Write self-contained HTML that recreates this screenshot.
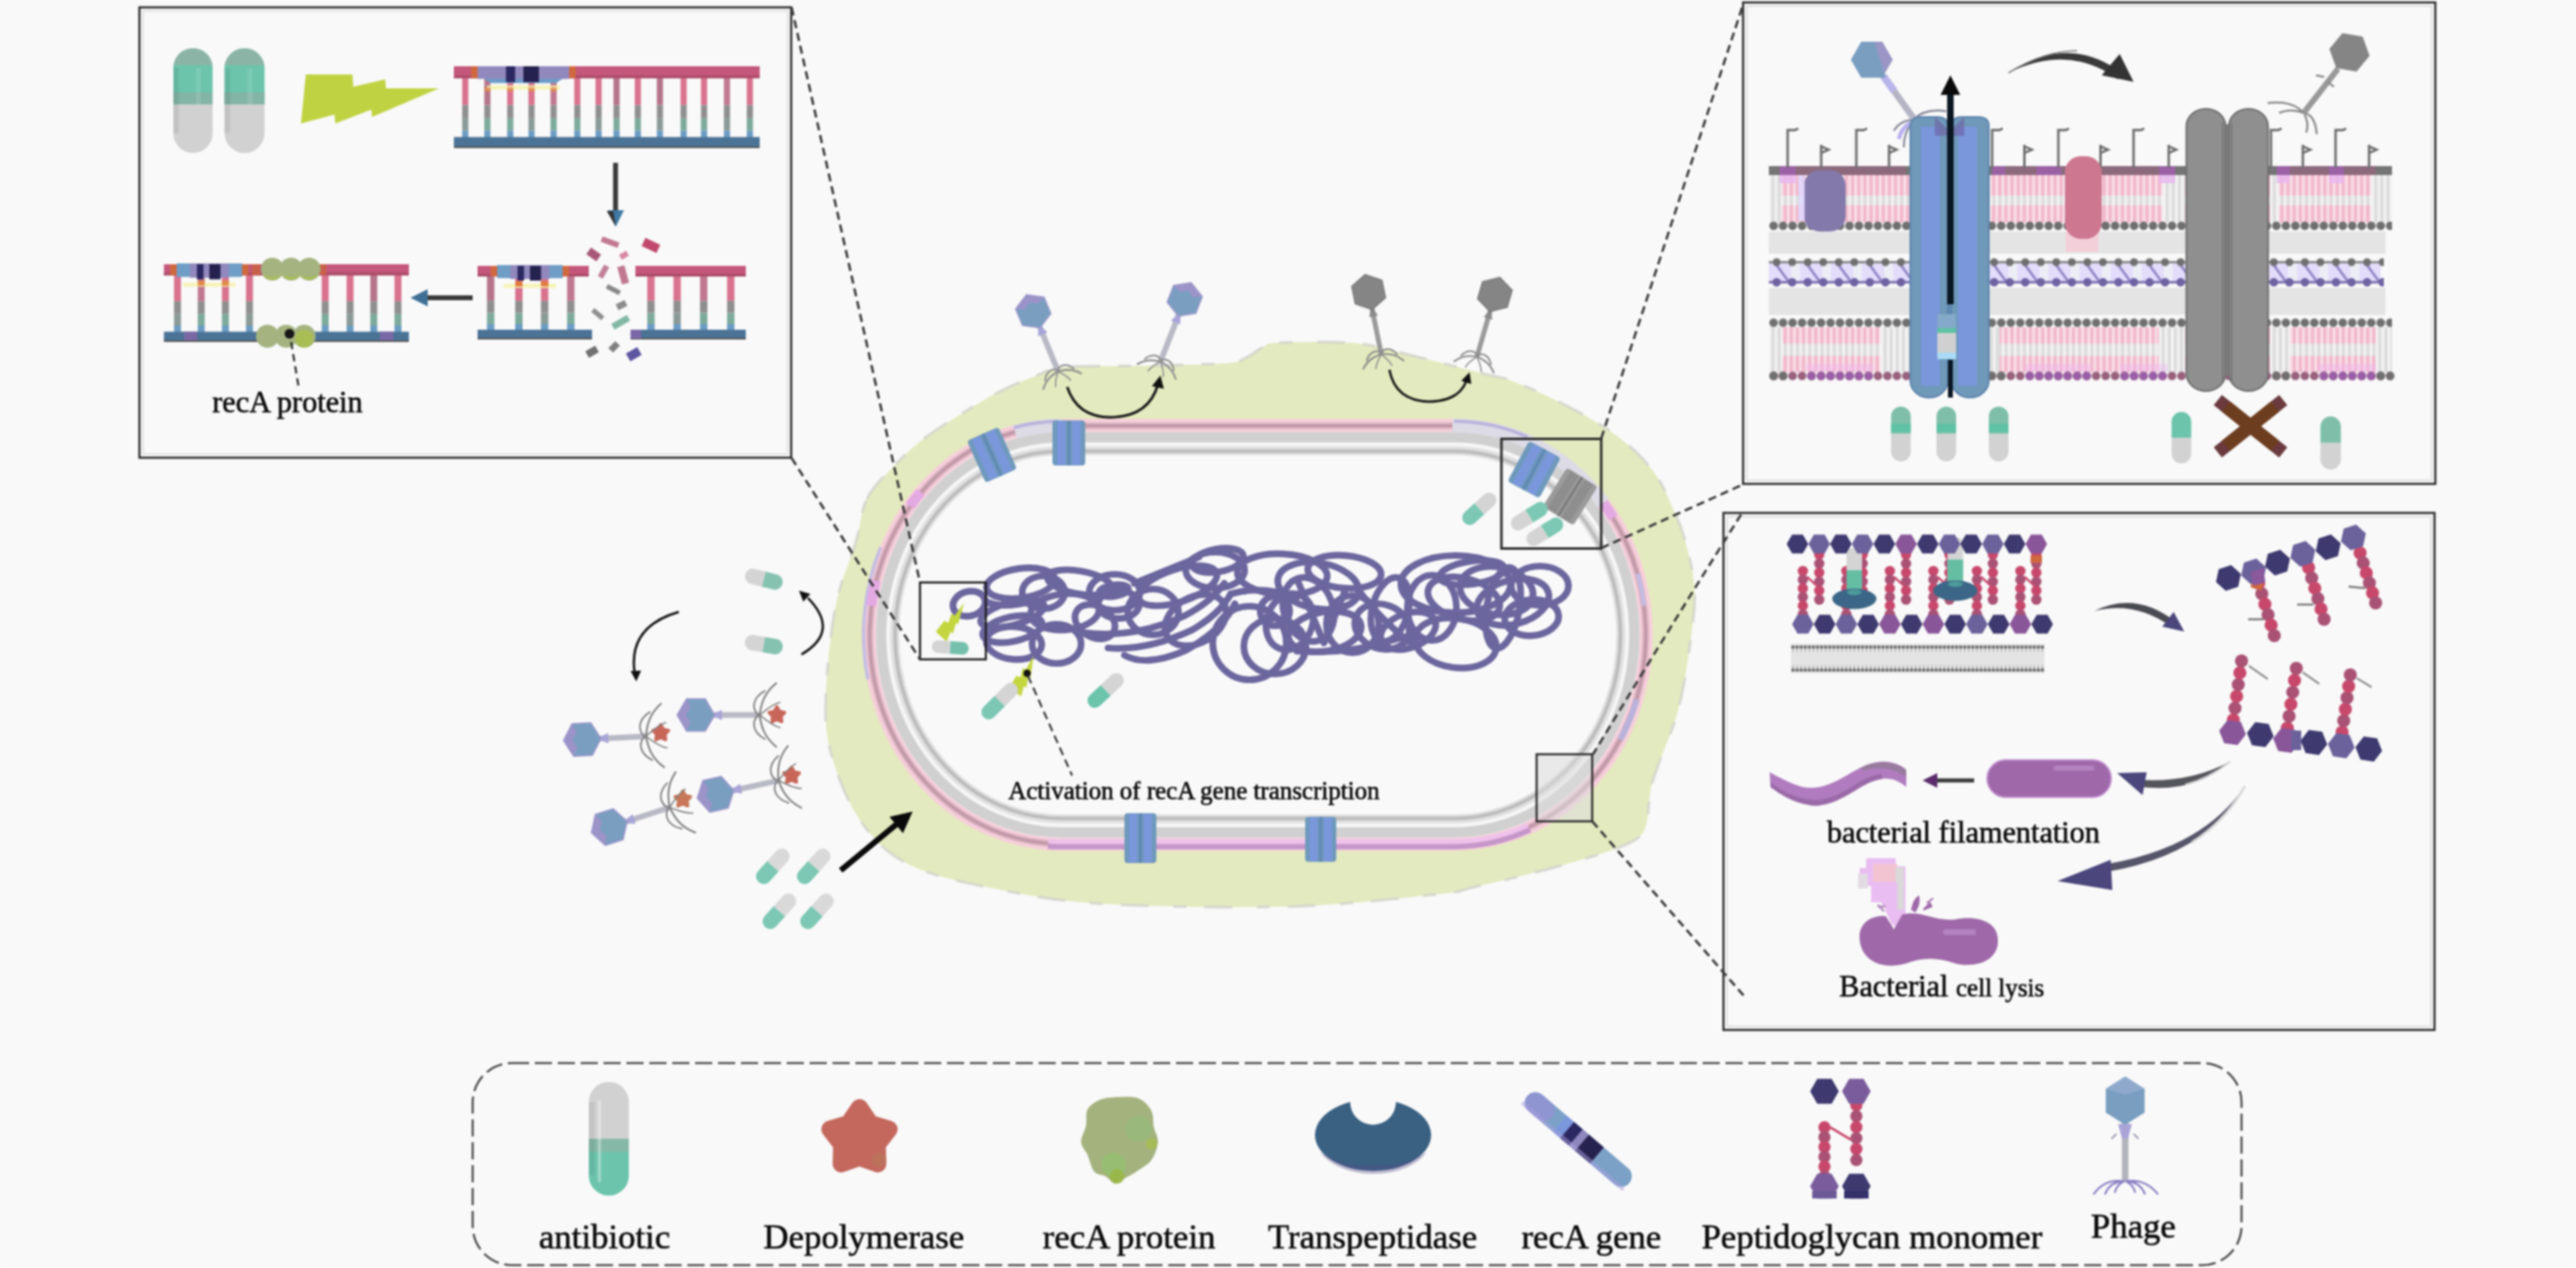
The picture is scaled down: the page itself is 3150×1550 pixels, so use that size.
<!DOCTYPE html>
<html><head><meta charset="utf-8"><title>Phage antibiotic synergy</title>
<style>
html,body{margin:0;padding:0;background:#f9f9f9;}
body{width:3150px;height:1550px;overflow:hidden;}
svg{display:block;filter:blur(1.1px);}
text{font-family:"Liberation Serif",serif;fill:#0a0a0a;stroke:#0a0a0a;stroke-width:0.7px;}
</style></head><body>
<svg width="3150" height="1550" viewBox="0 0 3150 1550">
<rect x="0" y="0" width="3150" height="1550" fill="#f9f9f9"/>
<path d="M1060,610 C1067.3,595.2 1079.3,584.3 1091,572 C1102.7,559.7 1112.7,549 1130,536 C1147.3,523 1178,504.3 1195,494 C1212,483.7 1219.8,479.8 1232,474 C1244.2,468.2 1256.7,463.2 1268,459 C1279.3,454.8 1278,451 1300,449 C1322,447 1366.7,447.8 1400,447 C1433.3,446.2 1479.3,445.7 1500,444 C1520.7,442.3 1516.5,440.3 1524,437 C1531.5,433.7 1538.7,427 1545,424 C1551.3,421 1544.5,419.8 1562,419 C1579.5,418.2 1627,417.5 1650,419 C1673,420.5 1671.8,421.5 1700,428 C1728.2,434.5 1795,452 1819,458 C1843,464 1830.5,459 1844,464 C1857.5,469 1880.7,478.5 1900,488 C1919.3,497.5 1943.3,510.3 1960,521 C1976.7,531.7 1988.8,541.5 2000,552 C2011.2,562.5 2019.5,572.7 2027,584 C2034.5,595.3 2039.5,607.5 2045,620 C2050.5,632.5 2055.5,642.7 2060,659 C2064.5,675.3 2070.7,698.3 2072,718 C2073.3,737.7 2071.3,752 2068,777 C2064.7,802 2059.8,838.3 2052,868 C2044.2,897.7 2027.5,931.7 2021,955 C2014.5,978.3 2017,995.8 2013,1008 C2009,1020.2 2007.5,1021.7 1997,1028 C1986.5,1034.3 1969.7,1039.7 1950,1046 C1930.3,1052.3 1904,1059.5 1879,1066 C1854,1072.5 1820,1080.5 1800,1085 C1780,1089.5 1795.7,1089.2 1759,1093 C1722.3,1096.8 1647.8,1106 1580,1108 C1512.2,1110 1412,1108.5 1352,1105 C1292,1101.5 1260,1095 1220,1087 C1180,1079 1140,1071 1112,1057 C1084,1043 1068,1025.8 1052,1003 C1036,980.2 1023,945.8 1016,920 C1009,894.2 1009,878 1010,848 C1011,818 1015.8,771.2 1022,740 C1028.2,708.8 1040.7,682.7 1047,661 C1053.3,639.3 1052.7,624.8 1060,610Z" fill="#e4eabf"/>
<path d="M1060,610 C1067.3,595.2 1079.3,584.3 1091,572 C1102.7,559.7 1112.7,549 1130,536 C1147.3,523 1178,504.3 1195,494 C1212,483.7 1219.8,479.8 1232,474 C1244.2,468.2 1256.7,463.2 1268,459 C1279.3,454.8 1278,451 1300,449 C1322,447 1366.7,447.8 1400,447 C1433.3,446.2 1479.3,445.7 1500,444 C1520.7,442.3 1516.5,440.3 1524,437 C1531.5,433.7 1538.7,427 1545,424 C1551.3,421 1544.5,419.8 1562,419 C1579.5,418.2 1627,417.5 1650,419 C1673,420.5 1671.8,421.5 1700,428 C1728.2,434.5 1795,452 1819,458 C1843,464 1830.5,459 1844,464 C1857.5,469 1880.7,478.5 1900,488 C1919.3,497.5 1943.3,510.3 1960,521 C1976.7,531.7 1988.8,541.5 2000,552 C2011.2,562.5 2019.5,572.7 2027,584 C2034.5,595.3 2039.5,607.5 2045,620 C2050.5,632.5 2055.5,642.7 2060,659 C2064.5,675.3 2070.7,698.3 2072,718 C2073.3,737.7 2071.3,752 2068,777 C2064.7,802 2059.8,838.3 2052,868 C2044.2,897.7 2027.5,931.7 2021,955 C2014.5,978.3 2017,995.8 2013,1008 C2009,1020.2 2007.5,1021.7 1997,1028 C1986.5,1034.3 1969.7,1039.7 1950,1046 C1930.3,1052.3 1904,1059.5 1879,1066 C1854,1072.5 1820,1080.5 1800,1085 C1780,1089.5 1795.7,1089.2 1759,1093 C1722.3,1096.8 1647.8,1106 1580,1108 C1512.2,1110 1412,1108.5 1352,1105 C1292,1101.5 1260,1095 1220,1087 C1180,1079 1140,1071 1112,1057 C1084,1043 1068,1025.8 1052,1003 C1036,980.2 1023,945.8 1016,920 C1009,894.2 1009,878 1010,848 C1011,818 1015.8,771.2 1022,740 C1028.2,708.8 1040.7,682.7 1047,661 C1053.3,639.3 1052.7,624.8 1060,610Z" fill="none" stroke="#d2d2cc" stroke-width="3.5" stroke-dasharray="34 22 16 30" opacity="0.8"/>
<rect x="1071" y="528" width="934" height="496" rx="227" ry="248" fill="#f9f9f9" stroke="#f4f4f4" stroke-width="14"/>
<rect x="1081" y="538" width="914" height="476" rx="217" ry="238" fill="#f9f9f9" stroke="#f6f6f6" stroke-width="30"/>
<rect x="1063" y="520" width="950" height="512" rx="235" ry="256" fill="none" stroke="#f6cfdb" stroke-width="16"/>
<rect x="1063.5" y="520.5" width="949" height="511" rx="234.5" ry="255.5" fill="none" stroke="#dab2c0" stroke-width="8"/>
<rect x="1063.5" y="520.5" width="949" height="511" rx="234.5" ry="255.5" fill="none" stroke="#c097a6" stroke-width="3.5"/>
<rect x="1077.5" y="534.5" width="921" height="483" rx="220.5" ry="241.5" fill="none" stroke="#d0d0d0" stroke-width="12.5"/>
<rect x="1094" y="551" width="888" height="450" rx="204" ry="225" fill="none" stroke="#e0e0e0" stroke-width="11"/>
<rect x="1094.5" y="551.5" width="887" height="449" rx="203.5" ry="224.5" fill="none" stroke="#bdbdbd" stroke-width="4.5"/>
<path d="M1281.8,1028.4 A232,253 0 0 0 1298,1029 H1778 A232,253 0 0 0 1868.6,1008.9" fill="none" stroke="#eec2ea" stroke-width="6"/>
<path d="M1281.4,1034.4 A238,259 0 0 0 1298,1035 H1778 A238,259 0 0 0 1871,1014.4" fill="none" stroke="#c596c9" stroke-width="6.5"/>
<line x1="1776" y1="520" x2="1780" y2="520" stroke="#dddbe6" stroke-width="16.5"/>
<path d="M1778,520 A235,256 0 0 1 1960.6,614.9" fill="none" stroke="#dddbe6" stroke-width="16.5"/>
<path d="M1778,515 A240,261 0 0 1 1867.9,534" fill="none" stroke="#b9b3dc" stroke-width="4"/>
<path d="M1241.1,527.6 A235,256 0 0 1 1298,520" fill="none" stroke="#dddbe6" stroke-width="16.5"/>
<path d="M1239.9,522.8 A240,261 0 0 1 1293.8,515" fill="none" stroke="#b9b3dc" stroke-width="4"/>
<path d="M1061.3,830.7 A242,263 0 0 1 1076.9,669" fill="none" stroke="#c4bce4" stroke-width="4"/>
<path d="M1065.3,740.4 A235,256 0 0 1 1071,709.7" fill="none" stroke="#e3a9e3" stroke-width="12"/>
<path d="M1112.8,618.4 A235,256 0 0 1 1126.1,601.4" fill="none" stroke="#e3a9e3" stroke-width="12"/>
<path d="M2001.5,855.1 A235,256 0 0 1 1981.5,904" fill="none" stroke="#b9b3dc" stroke-width="7"/>
<path d="M2002.7,701.2 A235,256 0 0 1 2010.7,740.4" fill="none" stroke="#c4bce4" stroke-width="5"/>
<path d="M1960.6,614.9 A235,256 0 0 1 1972.8,632.8" fill="none" stroke="#e3a9e3" stroke-width="12"/>
<g transform="translate(1307,541.5) rotate(0)"><rect x="-20" y="-27.5" width="40" height="55" rx="4" fill="#6f99bb"/><rect x="-14.4" y="-26.5" width="10.4" height="53" fill="#7a97dc"/><rect x="4" y="-26.5" width="10.4" height="53" fill="#7a97dc"/><rect x="-1.5" y="-27.5" width="3" height="55" fill="#5f86b4"/></g>
<g transform="translate(1213,556) rotate(-24)"><rect x="-21" y="-28" width="42" height="56" rx="4" fill="#6f99bb"/><rect x="-15.1" y="-27" width="10.9" height="54" fill="#7a97dc"/><rect x="4.2" y="-27" width="10.9" height="54" fill="#7a97dc"/><rect x="-1.5" y="-28" width="3" height="56" fill="#5f86b4"/></g>
<g transform="translate(1394.5,1024.5) rotate(0)"><rect x="-19.5" y="-30.5" width="39" height="61" rx="4" fill="#6f99bb"/><rect x="-14" y="-29.5" width="10.1" height="59" fill="#7a97dc"/><rect x="3.9" y="-29.5" width="10.1" height="59" fill="#7a97dc"/><rect x="-1.5" y="-30.5" width="3" height="61" fill="#5f86b4"/></g>
<g transform="translate(1615,1026) rotate(0)"><rect x="-19" y="-27.5" width="38" height="55" rx="4" fill="#6f99bb"/><rect x="-13.7" y="-26.5" width="9.9" height="53" fill="#7a97dc"/><rect x="3.8" y="-26.5" width="9.9" height="53" fill="#7a97dc"/><rect x="-1.5" y="-27.5" width="3" height="55" fill="#5f86b4"/></g>
<ellipse cx="1185" cy="738" rx="20" ry="15" transform="rotate(-15 1185 738)" fill="none" stroke="#6c669e" stroke-width="8.2"/>
<ellipse cx="1248" cy="713" rx="42" ry="18" transform="rotate(-8 1248 713)" fill="none" stroke="#6c669e" stroke-width="8.2"/>
<ellipse cx="1238" cy="750" rx="40" ry="14" transform="rotate(-15 1238 750)" fill="none" stroke="#6c669e" stroke-width="8.2"/>
<ellipse cx="1238" cy="769" rx="37" ry="15" transform="rotate(-12 1238 769)" fill="none" stroke="#6c669e" stroke-width="8.2"/>
<ellipse cx="1240" cy="786" rx="34" ry="20" transform="rotate(5 1240 786)" fill="none" stroke="#6c669e" stroke-width="8.2"/>
<ellipse cx="1276" cy="724" rx="26" ry="20" transform="rotate(0 1276 724)" fill="none" stroke="#6c669e" stroke-width="8.2"/>
<ellipse cx="1292" cy="787" rx="30" ry="24" transform="rotate(0 1292 787)" fill="none" stroke="#6c669e" stroke-width="8.2"/>
<ellipse cx="1302" cy="748" rx="42" ry="22" transform="rotate(-5 1302 748)" fill="none" stroke="#6c669e" stroke-width="8.2"/>
<ellipse cx="1363" cy="724" rx="31" ry="22" transform="rotate(0 1363 724)" fill="none" stroke="#6c669e" stroke-width="8.2"/>
<ellipse cx="1362" cy="722" rx="18" ry="7" transform="rotate(-8 1362 722)" fill="none" stroke="#6c669e" stroke-width="8.2"/>
<ellipse cx="1368" cy="739" rx="25" ry="17" transform="rotate(0 1368 739)" fill="none" stroke="#6c669e" stroke-width="8.2"/>
<ellipse cx="1339" cy="760" rx="26" ry="19" transform="rotate(30 1339 760)" fill="none" stroke="#6c669e" stroke-width="8.2"/>
<ellipse cx="1410" cy="748" rx="31" ry="28" transform="rotate(0 1410 748)" fill="none" stroke="#6c669e" stroke-width="8.2"/>
<ellipse cx="1320" cy="712" rx="40" ry="14" transform="rotate(10 1320 712)" fill="none" stroke="#6c669e" stroke-width="8.2"/>
<ellipse cx="1489" cy="685" rx="32" ry="14" transform="rotate(-10 1489 685)" fill="none" stroke="#6c669e" stroke-width="8.2"/>
<ellipse cx="1486" cy="697" rx="36" ry="22" transform="rotate(0 1486 697)" fill="none" stroke="#6c669e" stroke-width="8.2"/>
<ellipse cx="1568" cy="702" rx="55" ry="25" transform="rotate(3 1568 702)" fill="none" stroke="#6c669e" stroke-width="8.2"/>
<ellipse cx="1644" cy="699" rx="45" ry="20" transform="rotate(5 1644 699)" fill="none" stroke="#6c669e" stroke-width="8.2"/>
<ellipse cx="1528" cy="786" rx="45" ry="45" transform="rotate(0 1528 786)" fill="none" stroke="#6c669e" stroke-width="8.2"/>
<ellipse cx="1559" cy="790" rx="38" ry="34" transform="rotate(0 1559 790)" fill="none" stroke="#6c669e" stroke-width="8.2"/>
<ellipse cx="1559" cy="747" rx="18" ry="18" transform="rotate(0 1559 747)" fill="none" stroke="#6c669e" stroke-width="8.2"/>
<ellipse cx="1654" cy="763" rx="32" ry="35" transform="rotate(0 1654 763)" fill="none" stroke="#6c669e" stroke-width="8.2"/>
<ellipse cx="1600" cy="745" rx="30" ry="40" transform="rotate(-20 1600 745)" fill="none" stroke="#6c669e" stroke-width="8.2"/>
<ellipse cx="1700" cy="745" rx="22" ry="40" transform="rotate(15 1700 745)" fill="none" stroke="#6c669e" stroke-width="8.2"/>
<ellipse cx="1780" cy="714" rx="67" ry="35" transform="rotate(0 1780 714)" fill="none" stroke="#6c669e" stroke-width="8.2"/>
<ellipse cx="1790" cy="732" rx="45" ry="25" transform="rotate(15 1790 732)" fill="none" stroke="#6c669e" stroke-width="8.2"/>
<ellipse cx="1780" cy="786" rx="50" ry="30" transform="rotate(8 1780 786)" fill="none" stroke="#6c669e" stroke-width="8.2"/>
<ellipse cx="1883" cy="716" rx="35" ry="24" transform="rotate(0 1883 716)" fill="none" stroke="#6c669e" stroke-width="8.2"/>
<ellipse cx="1873" cy="755" rx="33" ry="22" transform="rotate(-5 1873 755)" fill="none" stroke="#6c669e" stroke-width="8.2"/>
<ellipse cx="1838" cy="743" rx="20" ry="50" transform="rotate(10 1838 743)" fill="none" stroke="#6c669e" stroke-width="8.2"/>
<ellipse cx="1751" cy="743" rx="30" ry="40" transform="rotate(0 1751 743)" fill="none" stroke="#6c669e" stroke-width="8.2"/>
<ellipse cx="1800" cy="700" rx="40" ry="14" transform="rotate(-8 1800 700)" fill="none" stroke="#6c669e" stroke-width="8.2"/>
<ellipse cx="1440" cy="716" rx="50" ry="20" transform="rotate(-18 1440 716)" fill="none" stroke="#6c669e" stroke-width="8.2"/>
<ellipse cx="1462" cy="758" rx="40" ry="28" transform="rotate(-30 1462 758)" fill="none" stroke="#6c669e" stroke-width="8.2"/>
<ellipse cx="1612" cy="716" rx="50" ry="28" transform="rotate(10 1612 716)" fill="none" stroke="#6c669e" stroke-width="8.2"/>
<ellipse cx="1620" cy="772" rx="45" ry="24" transform="rotate(-10 1620 772)" fill="none" stroke="#6c669e" stroke-width="8.2"/>
<ellipse cx="1690" cy="766" rx="34" ry="27" transform="rotate(20 1690 766)" fill="none" stroke="#6c669e" stroke-width="8.2"/>
<ellipse cx="1577" cy="760" rx="28" ry="35" transform="rotate(20 1577 760)" fill="none" stroke="#6c669e" stroke-width="8.2"/>
<ellipse cx="1830" cy="722" rx="45" ry="29" transform="rotate(10 1830 722)" fill="none" stroke="#6c669e" stroke-width="8.2"/>
<ellipse cx="1850" cy="736" rx="45" ry="27" transform="rotate(-15 1850 736)" fill="none" stroke="#6c669e" stroke-width="8.2"/>
<ellipse cx="1722" cy="771" rx="35" ry="21" transform="rotate(-20 1722 771)" fill="none" stroke="#6c669e" stroke-width="8.2"/>
<path d="M1323,773 Q1386,782 1450,752 Q1482,735 1497,713" fill="none" stroke="#6c669e" stroke-width="8.2" stroke-linecap="round" stroke-linejoin="round"/>
<path d="M1355,792 Q1402,796 1458,770 Q1492,750 1505,726" fill="none" stroke="#6c669e" stroke-width="8.2" stroke-linecap="round" stroke-linejoin="round"/>
<path d="M1375,801 Q1402,816 1450,795 Q1495,770 1510,738" fill="none" stroke="#6c669e" stroke-width="8.2" stroke-linecap="round" stroke-linejoin="round"/>
<path d="M1387,713 Q1434,694 1466,681" fill="none" stroke="#6c669e" stroke-width="8.2" stroke-linecap="round" stroke-linejoin="round"/>
<path d="M1586,708 L1619,786 L1644,724" fill="none" stroke="#6c669e" stroke-width="8.2" stroke-linecap="round" stroke-linejoin="round"/>
<path d="M1586,796 Q1640,800 1693,786 Q1720,775 1740,780" fill="none" stroke="#6c669e" stroke-width="8.2" stroke-linecap="round" stroke-linejoin="round"/>
<path d="M1660,720 Q1690,760 1730,790" fill="none" stroke="#6c669e" stroke-width="8.2" stroke-linecap="round" stroke-linejoin="round"/>
<path d="M1505,726 Q1540,715 1586,730" fill="none" stroke="#6c669e" stroke-width="8.2" stroke-linecap="round" stroke-linejoin="round"/>
<path d="M1205,735 Q1225,745 1262,735" fill="none" stroke="#6c669e" stroke-width="8.2" stroke-linecap="round" stroke-linejoin="round"/>
<rect x="1125" y="712" width="80.5" height="94" fill="none" stroke="#1a1a1a" stroke-width="2.5"/>
<rect x="1836" y="536.5" width="122" height="134" fill="none" stroke="#2a2a2a" stroke-width="3"/>
<rect x="1879" y="922" width="68" height="82" fill="#dcdcdc" fill-opacity="0.55" stroke="#2a2a2a" stroke-width="2.5"/>
<polygon transform="translate(1166,759) rotate(-52) scale(0.3)" points="-84,30 -79,-30 -22,-30 -20,-12 18,-24 20,-10 84,-12 2,23 0,13 -42,30 -43,18" fill="#c3d63f"/>
<g transform="translate(1162,791.5) rotate(-86)"><path d="M-7.8,0 V-14.8 A7.8,7.8 0 0 1 7.8,-14.8 V0 Z" fill="#d4d4d4"/><path d="M-7.8,0 V14.8 A7.8,7.8 0 0 0 7.8,14.8 V0 Z" fill="#74c0ac"/></g>
<polygon transform="translate(1254,825) rotate(-59) scale(0.3)" points="-84,30 -79,-30 -22,-30 -20,-12 18,-24 20,-10 84,-12 2,23 0,13 -42,30 -43,18" fill="#c3d63f"/>
<circle cx="1256" cy="823" r="4.5" fill="#111"/>
<line x1="1257" y1="826" x2="1311" y2="948" stroke="#3a3a3a" stroke-width="2.5" stroke-dasharray="10 6" fill="none"/>
<g transform="translate(1222.5,857) rotate(45)"><path d="M-9,0 V-19 A9,9 0 0 1 9,-19 V0 Z" fill="#d4d4d4"/><path d="M-9,0 V19 A9,9 0 0 0 9,19 V0 Z" fill="#7cc8b4"/></g>
<g transform="translate(1352,844) rotate(47)"><path d="M-9,0 V-18 A9,9 0 0 1 9,-18 V0 Z" fill="#d4d4d4"/><path d="M-9,0 V18 A9,9 0 0 0 9,18 V0 Z" fill="#6cc4aa"/></g>
<g transform="translate(1876,574) rotate(28)"><rect x="-22" y="-28" width="44" height="56" rx="4" fill="#6f99bb"/><rect x="-15.8" y="-27" width="11.4" height="54" fill="#7a97dc"/><rect x="4.4" y="-27" width="11.4" height="54" fill="#7a97dc"/><rect x="-1.5" y="-28" width="3" height="56" fill="#5f86b4"/></g>
<g transform="translate(1920,607) rotate(32)"><rect x="-22" y="-28" width="44" height="56" rx="4" fill="#9a9a9a"/><rect x="-15.8" y="-27" width="11.4" height="54" fill="#8e8e8e"/><rect x="4.4" y="-27" width="11.4" height="54" fill="#8e8e8e"/><rect x="-1.5" y="-28" width="3" height="56" fill="#7a7a7a"/></g>
<g transform="translate(1870,631) rotate(58)"><path d="M-9,0 V-16 A9,9 0 0 1 9,-16 V0 Z" fill="#7cc8b4"/><path d="M-9,0 V16 A9,9 0 0 0 9,16 V0 Z" fill="#d4d4d4"/></g>
<g transform="translate(1889,650) rotate(58)"><path d="M-9,0 V-16 A9,9 0 0 1 9,-16 V0 Z" fill="#7cc8b4"/><path d="M-9,0 V16 A9,9 0 0 0 9,16 V0 Z" fill="#d4d4d4"/></g>
<g transform="translate(1809,622) rotate(48)"><path d="M-9,0 V-16 A9,9 0 0 1 9,-16 V0 Z" fill="#d4d4d4"/><path d="M-9,0 V16 A9,9 0 0 0 9,16 V0 Z" fill="#7cc8b4"/></g>
<g transform="translate(1263.5,380.5) rotate(67.5)"><line x1="16.8" y1="0" x2="79.6" y2="0" stroke="#b9b9c6" stroke-width="7"/><polygon points="16.8,0 30.4,-6.3 30.4,6.3" fill="#a9a4d8"/><path d="M79.6,0 C80.6,8 82.6,17 92.6,25" fill="none" stroke="#8c8c8c" stroke-width="2.2" stroke-linecap="round"/><path d="M77.6,0 C72.6,6 74.6,14 83.6,19" fill="none" stroke="#8c8c8c" stroke-width="2" stroke-linecap="round"/><path d="M79.6,0 C84.6,4 88.6,8 95.6,10" fill="none" stroke="#8c8c8c" stroke-width="1.6" stroke-linecap="round"/><path d="M79.6,0 C80.6,-8 82.6,-17 92.6,-25" fill="none" stroke="#8c8c8c" stroke-width="2.2" stroke-linecap="round"/><path d="M77.6,0 C72.6,-6 74.6,-14 83.6,-19" fill="none" stroke="#8c8c8c" stroke-width="2" stroke-linecap="round"/><path d="M79.6,0 C84.6,-4 88.6,-8 95.6,-10" fill="none" stroke="#8c8c8c" stroke-width="1.6" stroke-linecap="round"/><polygon points="22.7,0 11.3,19.6 -11.3,19.6 -22.7,0 -11.3,-19.6 11.3,-19.6" fill="#a098cc"/><polygon points="21,0 10.5,18.2 -10.5,18.2 -21,0 -10.5,-18.2 10.5,-18.2" fill="#7a9ec0"/><polygon points="-10.5,-18.2 -21,0 -10.5,18.2 -6.3,8.8 -11.6,0 -6.3,-8.8" fill="#9c93c8"/></g>
<g transform="translate(1448.7,366) rotate(111.3)"><line x1="16.8" y1="0" x2="81.6" y2="0" stroke="#b9b9c6" stroke-width="7"/><polygon points="16.8,0 30.4,-6.3 30.4,6.3" fill="#a9a4d8"/><path d="M81.6,0 C82.6,8 84.6,17 94.6,25" fill="none" stroke="#8c8c8c" stroke-width="2.2" stroke-linecap="round"/><path d="M79.6,0 C74.6,6 76.6,14 85.6,19" fill="none" stroke="#8c8c8c" stroke-width="2" stroke-linecap="round"/><path d="M81.6,0 C86.6,4 90.6,8 97.6,10" fill="none" stroke="#8c8c8c" stroke-width="1.6" stroke-linecap="round"/><path d="M81.6,0 C82.6,-8 84.6,-17 94.6,-25" fill="none" stroke="#8c8c8c" stroke-width="2.2" stroke-linecap="round"/><path d="M79.6,0 C74.6,-6 76.6,-14 85.6,-19" fill="none" stroke="#8c8c8c" stroke-width="2" stroke-linecap="round"/><path d="M81.6,0 C86.6,-4 90.6,-8 97.6,-10" fill="none" stroke="#8c8c8c" stroke-width="1.6" stroke-linecap="round"/><polygon points="22.7,0 11.3,19.6 -11.3,19.6 -22.7,0 -11.3,-19.6 11.3,-19.6" fill="#a098cc"/><polygon points="21,0 10.5,18.2 -10.5,18.2 -21,0 -10.5,-18.2 10.5,-18.2" fill="#7a9ec0"/><polygon points="-10.5,-18.2 -21,0 -10.5,18.2 -6.3,8.8 -11.6,0 -6.3,-8.8" fill="#9c93c8"/></g>
<g transform="translate(1673.6,357) rotate(78.5)"><line x1="16.8" y1="0" x2="77.5" y2="0" stroke="#9a9a9a" stroke-width="6"/><polygon points="16.8,0 30.4,-5.4 30.4,5.4" fill="#8a8a8a"/><path d="M77.5,0 C78.5,8 80.5,17 90.5,25" fill="none" stroke="#8a8a8a" stroke-width="2.2" stroke-linecap="round"/><path d="M75.5,0 C70.5,6 72.5,14 81.5,19" fill="none" stroke="#8a8a8a" stroke-width="2" stroke-linecap="round"/><path d="M77.5,0 C82.5,4 86.5,8 93.5,10" fill="none" stroke="#8a8a8a" stroke-width="1.6" stroke-linecap="round"/><path d="M77.5,0 C78.5,-8 80.5,-17 90.5,-25" fill="none" stroke="#8a8a8a" stroke-width="2.2" stroke-linecap="round"/><path d="M75.5,0 C70.5,-6 72.5,-14 81.5,-19" fill="none" stroke="#8a8a8a" stroke-width="2" stroke-linecap="round"/><path d="M77.5,0 C82.5,-4 86.5,-8 93.5,-10" fill="none" stroke="#8a8a8a" stroke-width="1.6" stroke-linecap="round"/><polygon points="22.7,0 11.3,19.6 -11.3,19.6 -22.7,0 -11.3,-19.6 11.3,-19.6" fill="#7a7a7a"/><polygon points="21,0 10.5,18.2 -10.5,18.2 -21,0 -10.5,-18.2 10.5,-18.2" fill="#858585"/></g>
<g transform="translate(1828,360) rotate(106.1)"><line x1="16.8" y1="0" x2="79.1" y2="0" stroke="#9a9a9a" stroke-width="6"/><polygon points="16.8,0 30.4,-5.4 30.4,5.4" fill="#8a8a8a"/><path d="M79.1,0 C80.1,8 82.1,17 92.1,25" fill="none" stroke="#8a8a8a" stroke-width="2.2" stroke-linecap="round"/><path d="M77.1,0 C72.1,6 74.1,14 83.1,19" fill="none" stroke="#8a8a8a" stroke-width="2" stroke-linecap="round"/><path d="M79.1,0 C84.1,4 88.1,8 95.1,10" fill="none" stroke="#8a8a8a" stroke-width="1.6" stroke-linecap="round"/><path d="M79.1,0 C80.1,-8 82.1,-17 92.1,-25" fill="none" stroke="#8a8a8a" stroke-width="2.2" stroke-linecap="round"/><path d="M77.1,0 C72.1,-6 74.1,-14 83.1,-19" fill="none" stroke="#8a8a8a" stroke-width="2" stroke-linecap="round"/><path d="M79.1,0 C84.1,-4 88.1,-8 95.1,-10" fill="none" stroke="#8a8a8a" stroke-width="1.6" stroke-linecap="round"/><polygon points="22.7,0 11.3,19.6 -11.3,19.6 -22.7,0 -11.3,-19.6 11.3,-19.6" fill="#7a7a7a"/><polygon points="21,0 10.5,18.2 -10.5,18.2 -21,0 -10.5,-18.2 10.5,-18.2" fill="#858585"/></g>
<path d="M1305,473 Q1318,512 1362,510 Q1405,508 1416,470" fill="none" stroke="#1a1a1a" stroke-width="3.2"/>
<polygon points="1419,459 1423.2,475.2 1408.5,472.1" fill="#111"/>
<path d="M1699,452 Q1706,490 1748,491 Q1784,490 1793,466" fill="none" stroke="#1a1a1a" stroke-width="3"/>
<polygon points="1797,455 1799.2,469.4 1786.8,465.4" fill="#111"/>
<line x1="1028" y1="1064" x2="1100" y2="1004.5" stroke="#0a0a0a" stroke-width="7"/>
<polygon points="1116,992 1104.2,1018.6 1087.7,998.5" fill="#0a0a0a"/>
<g transform="translate(945,1059) rotate(42)"><path d="M-9.5,0 V-16.5 A9.5,9.5 0 0 1 9.5,-16.5 V0 Z" fill="#d9d9d9"/><path d="M-9.5,0 V16.5 A9.5,9.5 0 0 0 9.5,16.5 V0 Z" fill="#7cc8b4"/></g>
<g transform="translate(995,1059) rotate(42)"><path d="M-9.5,0 V-16.5 A9.5,9.5 0 0 1 9.5,-16.5 V0 Z" fill="#d9d9d9"/><path d="M-9.5,0 V16.5 A9.5,9.5 0 0 0 9.5,16.5 V0 Z" fill="#7cc8b4"/></g>
<g transform="translate(953,1114) rotate(42)"><path d="M-9.5,0 V-16.5 A9.5,9.5 0 0 1 9.5,-16.5 V0 Z" fill="#d9d9d9"/><path d="M-9.5,0 V16.5 A9.5,9.5 0 0 0 9.5,16.5 V0 Z" fill="#7cc8b4"/></g>
<g transform="translate(999,1114) rotate(42)"><path d="M-9.5,0 V-16.5 A9.5,9.5 0 0 1 9.5,-16.5 V0 Z" fill="#d9d9d9"/><path d="M-9.5,0 V16.5 A9.5,9.5 0 0 0 9.5,16.5 V0 Z" fill="#7cc8b4"/></g>
<g transform="translate(934,708) rotate(-76)"><path d="M-9.5,0 V-14 A9.5,9.5 0 0 1 9.5,-14 V0 Z" fill="#d4d4d4"/><path d="M-9.5,0 V14 A9.5,9.5 0 0 0 9.5,14 V0 Z" fill="#86c2b0"/></g>
<g transform="translate(934,788) rotate(-80)"><path d="M-9.5,0 V-14 A9.5,9.5 0 0 1 9.5,-14 V0 Z" fill="#d4d4d4"/><path d="M-9.5,0 V14 A9.5,9.5 0 0 0 9.5,14 V0 Z" fill="#86c2b0"/></g>
<path d="M830,748 Q768,766 776,822" fill="none" stroke="#1a1a1a" stroke-width="3"/>
<polygon points="778,833 771.1,820.2 784,819.8" fill="#111"/>
<path d="M980,800 Q1028,772 988,731" fill="none" stroke="#1a1a1a" stroke-width="3"/>
<polygon points="977,722 991,725.9 982.3,735.5" fill="#111"/>
<polygon points="808,886 811.2,891.6 817.5,892.9 813.2,897.7 813.9,904.1 808,901.5 802.1,904.1 802.8,897.7 798.5,892.9 804.8,891.6" fill="#c8665a" stroke="#c8665a" stroke-width="4" stroke-linejoin="round"/>
<g transform="translate(712,904) rotate(-2.9)"><line x1="17.6" y1="0" x2="78.1" y2="0" stroke="#b9b9c6" stroke-width="7"/><polygon points="17.6,0 31.9,-6.3 31.9,6.3" fill="#a9a4d8"/><path d="M78.1,0 C79.7,12.4 82.8,26.4 98.3,38.8" fill="none" stroke="#7f7f7f" stroke-width="2.2" stroke-linecap="round"/><path d="M76.1,0 C67.3,9.3 70.4,21.7 84.3,29.4" fill="none" stroke="#7f7f7f" stroke-width="2" stroke-linecap="round"/><path d="M78.1,0 C85.9,6.2 92.1,12.4 102.9,15.5" fill="none" stroke="#7f7f7f" stroke-width="1.6" stroke-linecap="round"/><path d="M78.1,0 C79.7,-12.4 82.8,-26.4 98.3,-38.8" fill="none" stroke="#7f7f7f" stroke-width="2.2" stroke-linecap="round"/><path d="M76.1,0 C67.3,-9.3 70.4,-21.7 84.3,-29.4" fill="none" stroke="#7f7f7f" stroke-width="2" stroke-linecap="round"/><path d="M78.1,0 C85.9,-6.2 92.1,-12.4 102.9,-15.5" fill="none" stroke="#7f7f7f" stroke-width="1.6" stroke-linecap="round"/><polygon points="23.8,0 11.9,20.6 -11.9,20.6 -23.8,0 -11.9,-20.6 11.9,-20.6" fill="#9f96cc"/><polygon points="22,0 11,19.1 -11,19.1 -22,0 -11,-19.1 11,-19.1" fill="#7a9ec0"/><polygon points="-11,-19.1 -22,0 -11,19.1 -6.6,9.2 -12.1,0 -6.6,-9.2" fill="#9c93c8"/></g>
<polygon points="950,864 953.2,869.6 959.5,870.9 955.2,875.7 955.9,882.1 950,879.5 944.1,882.1 944.8,875.7 940.5,870.9 946.8,869.6" fill="#c8665a" stroke="#c8665a" stroke-width="4" stroke-linejoin="round"/>
<g transform="translate(851,874) rotate(0)"><line x1="17.6" y1="0" x2="78" y2="0" stroke="#b9b9c6" stroke-width="7"/><polygon points="17.6,0 31.9,-6.3 31.9,6.3" fill="#a9a4d8"/><path d="M78,0 C79.5,12.4 82.7,26.4 98.2,38.8" fill="none" stroke="#7f7f7f" stroke-width="2.2" stroke-linecap="round"/><path d="M76,0 C67.2,9.3 70.2,21.7 84.2,29.4" fill="none" stroke="#7f7f7f" stroke-width="2" stroke-linecap="round"/><path d="M78,0 C85.8,6.2 92,12.4 102.8,15.5" fill="none" stroke="#7f7f7f" stroke-width="1.6" stroke-linecap="round"/><path d="M78,0 C79.5,-12.4 82.7,-26.4 98.2,-38.8" fill="none" stroke="#7f7f7f" stroke-width="2.2" stroke-linecap="round"/><path d="M76,0 C67.2,-9.3 70.2,-21.7 84.2,-29.4" fill="none" stroke="#7f7f7f" stroke-width="2" stroke-linecap="round"/><path d="M78,0 C85.8,-6.2 92,-12.4 102.8,-15.5" fill="none" stroke="#7f7f7f" stroke-width="1.6" stroke-linecap="round"/><polygon points="23.8,0 11.9,20.6 -11.9,20.6 -23.8,0 -11.9,-20.6 11.9,-20.6" fill="#9f96cc"/><polygon points="22,0 11,19.1 -11,19.1 -22,0 -11,-19.1 11,-19.1" fill="#7a9ec0"/><polygon points="-11,-19.1 -22,0 -11,19.1 -6.6,9.2 -12.1,0 -6.6,-9.2" fill="#9c93c8"/></g>
<polygon points="968,938 971.2,943.6 977.5,944.9 973.2,949.7 973.9,956.1 968,953.5 962.1,956.1 962.8,949.7 958.5,944.9 964.8,943.6" fill="#c8665a" stroke="#c8665a" stroke-width="4" stroke-linejoin="round"/>
<g transform="translate(875,971) rotate(-12.4)"><line x1="17.6" y1="0" x2="78.9" y2="0" stroke="#b9b9c6" stroke-width="7"/><polygon points="17.6,0 31.9,-6.3 31.9,6.3" fill="#a9a4d8"/><path d="M78.9,0 C80.4,12.4 83.5,26.4 99,38.8" fill="none" stroke="#7f7f7f" stroke-width="2.2" stroke-linecap="round"/><path d="M76.9,0 C68,9.3 71.1,21.7 85.1,29.4" fill="none" stroke="#7f7f7f" stroke-width="2" stroke-linecap="round"/><path d="M78.9,0 C86.6,6.2 92.8,12.4 103.7,15.5" fill="none" stroke="#7f7f7f" stroke-width="1.6" stroke-linecap="round"/><path d="M78.9,0 C80.4,-12.4 83.5,-26.4 99,-38.8" fill="none" stroke="#7f7f7f" stroke-width="2.2" stroke-linecap="round"/><path d="M76.9,0 C68,-9.3 71.1,-21.7 85.1,-29.4" fill="none" stroke="#7f7f7f" stroke-width="2" stroke-linecap="round"/><path d="M78.9,0 C86.6,-6.2 92.8,-12.4 103.7,-15.5" fill="none" stroke="#7f7f7f" stroke-width="1.6" stroke-linecap="round"/><polygon points="23.8,0 11.9,20.6 -11.9,20.6 -23.8,0 -11.9,-20.6 11.9,-20.6" fill="#9f96cc"/><polygon points="22,0 11,19.1 -11,19.1 -22,0 -11,-19.1 11,-19.1" fill="#7a9ec0"/><polygon points="-11,-19.1 -22,0 -11,19.1 -6.6,9.2 -12.1,0 -6.6,-9.2" fill="#9c93c8"/></g>
<polygon points="835,967 838.2,972.6 844.5,973.9 840.2,978.7 840.9,985.1 835,982.5 829.1,985.1 829.8,978.7 825.5,973.9 831.8,972.6" fill="#c87858" stroke="#c87858" stroke-width="4" stroke-linejoin="round"/>
<g transform="translate(745,1011) rotate(-18)"><line x1="17.6" y1="0" x2="77.8" y2="0" stroke="#b9b9c6" stroke-width="7"/><polygon points="17.6,0 31.9,-6.3 31.9,6.3" fill="#a9a4d8"/><path d="M77.8,0 C79.3,12.4 82.4,26.4 97.9,38.8" fill="none" stroke="#7f7f7f" stroke-width="2.2" stroke-linecap="round"/><path d="M75.8,0 C66.9,9.3 70,21.7 84,29.4" fill="none" stroke="#7f7f7f" stroke-width="2" stroke-linecap="round"/><path d="M77.8,0 C85.5,6.2 91.7,12.4 102.6,15.5" fill="none" stroke="#7f7f7f" stroke-width="1.6" stroke-linecap="round"/><path d="M77.8,0 C79.3,-12.4 82.4,-26.4 97.9,-38.8" fill="none" stroke="#7f7f7f" stroke-width="2.2" stroke-linecap="round"/><path d="M75.8,0 C66.9,-9.3 70,-21.7 84,-29.4" fill="none" stroke="#7f7f7f" stroke-width="2" stroke-linecap="round"/><path d="M77.8,0 C85.5,-6.2 91.7,-12.4 102.6,-15.5" fill="none" stroke="#7f7f7f" stroke-width="1.6" stroke-linecap="round"/><polygon points="23.8,0 11.9,20.6 -11.9,20.6 -23.8,0 -11.9,-20.6 11.9,-20.6" fill="#9f96cc"/><polygon points="22,0 11,19.1 -11,19.1 -22,0 -11,-19.1 11,-19.1" fill="#7a9ec0"/><polygon points="-11,-19.1 -22,0 -11,19.1 -6.6,9.2 -12.1,0 -6.6,-9.2" fill="#9c93c8"/></g>
<text x="1233" y="977" font-size="30.5">Activation of recA gene transcription</text>
<rect x="170.5" y="9" width="797" height="550.5" fill="#f9f9f9" stroke="#2b2b2b" stroke-width="2.6"/>
<rect x="175" y="13.5" width="788" height="541.5" fill="none" stroke="#d8d8d8" stroke-width="1.5"/>
<g transform="translate(236,123) rotate(0)"><path d="M-24,4.6 V-40 A24,24 0 0 1 24,-40 V4.6 Z" fill="#6cc4aa"/><path d="M-24,4.6 V40 A24,24 0 0 0 24,40 V4.6 Z" fill="#d1d1d1"/><path d="M-24,-40 A24,24 0 0 1 24,-40 V-43.6 H-24 Z" fill="#8fb3a6" opacity="0.9"/><rect x="-24" y="-10.1" width="48" height="14.7" fill="#86b3a4" opacity="0.9"/><rect x="-24" y="-40" width="6.7" height="80" fill="#000" opacity="0.07"/><rect x="3.6" y="-40" width="5.8" height="44.6" fill="#fff" opacity="0.12"/></g>
<g transform="translate(299,123) rotate(0)"><path d="M-24.5,4.6 V-39.5 A24.5,24.5 0 0 1 24.5,-39.5 V4.6 Z" fill="#6cc4aa"/><path d="M-24.5,4.6 V39.5 A24.5,24.5 0 0 0 24.5,39.5 V4.6 Z" fill="#d1d1d1"/><path d="M-24.5,-39.5 A24.5,24.5 0 0 1 24.5,-39.5 V-43.2 H-24.5 Z" fill="#8fb3a6" opacity="0.9"/><rect x="-24.5" y="-10.1" width="49" height="14.7" fill="#86b3a4" opacity="0.9"/><rect x="-24.5" y="-39.5" width="6.9" height="79" fill="#000" opacity="0.07"/><rect x="3.7" y="-39.5" width="5.9" height="44.1" fill="#fff" opacity="0.12"/></g>
<polygon points="368,151 374,91 431,91 432,106 471,97 472,108 537,108 455,143 454,134 410,151 409,140" fill="#bfd342"/>
<rect x="565.2" y="94.5" width="7.5" height="34" fill="#d9728f"/>
<rect x="565.2" y="128.5" width="7.5" height="16.3" fill="#8f8f8f"/>
<rect x="565.2" y="144.8" width="7.5" height="14.8" fill="#8a9a96"/>
<rect x="565.2" y="159.6" width="7.5" height="9.9" fill="#6b9cc4"/>
<rect x="592.2" y="94.5" width="7.5" height="34" fill="#b5748a"/>
<rect x="592.2" y="128.5" width="7.5" height="16.3" fill="#8f8f8f"/>
<rect x="592.2" y="144.8" width="7.5" height="14.8" fill="#7caa9b"/>
<rect x="592.2" y="159.6" width="7.5" height="9.9" fill="#6b9cc4"/>
<rect x="620.2" y="94.5" width="7.5" height="34" fill="#d9728f"/>
<rect x="620.2" y="128.5" width="7.5" height="16.3" fill="#8f8f8f"/>
<rect x="620.2" y="144.8" width="7.5" height="14.8" fill="#7caa9b"/>
<rect x="620.2" y="159.6" width="7.5" height="9.9" fill="#6b9cc4"/>
<rect x="646.2" y="94.5" width="7.5" height="34" fill="#d9728f"/>
<rect x="646.2" y="128.5" width="7.5" height="16.3" fill="#8f8f8f"/>
<rect x="646.2" y="144.8" width="7.5" height="14.8" fill="#8a9a96"/>
<rect x="646.2" y="159.6" width="7.5" height="9.9" fill="#6b9cc4"/>
<rect x="673.2" y="94.5" width="7.5" height="34" fill="#c07890"/>
<rect x="673.2" y="128.5" width="7.5" height="16.3" fill="#8f8f8f"/>
<rect x="673.2" y="144.8" width="7.5" height="14.8" fill="#7caa9b"/>
<rect x="673.2" y="159.6" width="7.5" height="9.9" fill="#6b9cc4"/>
<rect x="702.2" y="94.5" width="7.5" height="34" fill="#d9728f"/>
<rect x="702.2" y="128.5" width="7.5" height="16.3" fill="#8f8f8f"/>
<rect x="702.2" y="144.8" width="7.5" height="14.8" fill="#7caa9b"/>
<rect x="702.2" y="159.6" width="7.5" height="9.9" fill="#6b9cc4"/>
<rect x="728.2" y="94.5" width="7.5" height="34" fill="#d9728f"/>
<rect x="728.2" y="128.5" width="7.5" height="16.3" fill="#8f8f8f"/>
<rect x="728.2" y="144.8" width="7.5" height="14.8" fill="#8a9a96"/>
<rect x="728.2" y="159.6" width="7.5" height="9.9" fill="#6b9cc4"/>
<rect x="750.2" y="94.5" width="7.5" height="34" fill="#b5748a"/>
<rect x="750.2" y="128.5" width="7.5" height="16.3" fill="#8f8f8f"/>
<rect x="750.2" y="144.8" width="7.5" height="14.8" fill="#7caa9b"/>
<rect x="750.2" y="159.6" width="7.5" height="9.9" fill="#6b9cc4"/>
<rect x="776.2" y="94.5" width="7.5" height="34" fill="#d9728f"/>
<rect x="776.2" y="128.5" width="7.5" height="16.3" fill="#8f8f8f"/>
<rect x="776.2" y="144.8" width="7.5" height="14.8" fill="#7caa9b"/>
<rect x="776.2" y="159.6" width="7.5" height="9.9" fill="#6b9cc4"/>
<rect x="803.2" y="94.5" width="7.5" height="34" fill="#b5748a"/>
<rect x="803.2" y="128.5" width="7.5" height="16.3" fill="#8f8f8f"/>
<rect x="803.2" y="144.8" width="7.5" height="14.8" fill="#8a9a96"/>
<rect x="803.2" y="159.6" width="7.5" height="9.9" fill="#6b9cc4"/>
<rect x="832.2" y="94.5" width="7.5" height="34" fill="#d9728f"/>
<rect x="832.2" y="128.5" width="7.5" height="16.3" fill="#8f8f8f"/>
<rect x="832.2" y="144.8" width="7.5" height="14.8" fill="#7caa9b"/>
<rect x="832.2" y="159.6" width="7.5" height="9.9" fill="#6b9cc4"/>
<rect x="857.2" y="94.5" width="7.5" height="34" fill="#d9728f"/>
<rect x="857.2" y="128.5" width="7.5" height="16.3" fill="#8f8f8f"/>
<rect x="857.2" y="144.8" width="7.5" height="14.8" fill="#7caa9b"/>
<rect x="857.2" y="159.6" width="7.5" height="9.9" fill="#6b9cc4"/>
<rect x="885.2" y="94.5" width="7.5" height="34" fill="#c07890"/>
<rect x="885.2" y="128.5" width="7.5" height="16.3" fill="#8f8f8f"/>
<rect x="885.2" y="144.8" width="7.5" height="14.8" fill="#8a9a96"/>
<rect x="885.2" y="159.6" width="7.5" height="9.9" fill="#6b9cc4"/>
<rect x="913.2" y="94.5" width="7.5" height="34" fill="#d9728f"/>
<rect x="913.2" y="128.5" width="7.5" height="16.3" fill="#8f8f8f"/>
<rect x="913.2" y="144.8" width="7.5" height="14.8" fill="#7caa9b"/>
<rect x="913.2" y="159.6" width="7.5" height="9.9" fill="#6b9cc4"/>
<rect x="555" y="81" width="374" height="14.5" fill="#c4577b"/>
<rect x="555" y="92.5" width="374" height="3" fill="#a84a68"/>
<rect x="555" y="177" width="374" height="4" fill="#555"/>
<rect x="555" y="167.5" width="374" height="11.5" fill="#4b7396"/>
<rect x="576" y="81" width="8" height="14.5" fill="#d0683e"/>
<rect x="696" y="81" width="8" height="14.5" fill="#d0683e"/>
<polygon points="588,93.5 692,93.5 680,101.5 600,101.5" fill="#6b9cc8"/>
<rect x="584" y="81" width="112" height="15.5" fill="#9189bd"/>
<rect x="618.7" y="81" width="11.2" height="19.5" fill="#2b2760"/>
<rect x="640" y="81" width="19" height="19.5" fill="#26224f"/>
<rect x="595.2" y="104.5" width="89.6" height="5" fill="#f5f1a8" opacity="0.8"/>
<rect x="592.2" y="107" width="7.5" height="5" fill="#e08a4a" opacity="0.75"/>
<rect x="620.2" y="107" width="7.5" height="5" fill="#e08a4a" opacity="0.75"/>
<rect x="646.2" y="107" width="7.5" height="5" fill="#e08a4a" opacity="0.75"/>
<rect x="673.2" y="107" width="7.5" height="5" fill="#e08a4a" opacity="0.75"/>
<line x1="752.7" y1="199" x2="752.7" y2="262" stroke="#3a3a3a" stroke-width="6"/>
<polygon points="753,277 743,257 763,257" fill="#3f79a4"/>
<polygon points="742,258 753,277 750,258" fill="#333"/>
<rect x="595.5" y="337" width="9" height="30.8" fill="#b5748a"/>
<rect x="595.5" y="367.8" width="9" height="14.7" fill="#8f8f8f"/>
<rect x="595.5" y="382.6" width="9" height="13.4" fill="#7caa9b"/>
<rect x="595.5" y="396" width="9" height="9" fill="#6b9cc4"/>
<rect x="630" y="337" width="9" height="30.8" fill="#d9728f"/>
<rect x="630" y="367.8" width="9" height="14.7" fill="#8f8f8f"/>
<rect x="630" y="382.6" width="9" height="13.4" fill="#7caa9b"/>
<rect x="630" y="396" width="9" height="9" fill="#6b9cc4"/>
<rect x="661.5" y="337" width="9" height="30.8" fill="#d9728f"/>
<rect x="661.5" y="367.8" width="9" height="14.7" fill="#8f8f8f"/>
<rect x="661.5" y="382.6" width="9" height="13.4" fill="#8a9a96"/>
<rect x="661.5" y="396" width="9" height="9" fill="#6b9cc4"/>
<rect x="693.5" y="337" width="9" height="30.8" fill="#c07890"/>
<rect x="693.5" y="367.8" width="9" height="14.7" fill="#8f8f8f"/>
<rect x="693.5" y="382.6" width="9" height="13.4" fill="#7caa9b"/>
<rect x="693.5" y="396" width="9" height="9" fill="#6b9cc4"/>
<rect x="584" y="325" width="136" height="13" fill="#c4577b"/>
<rect x="584" y="335" width="136" height="3" fill="#a84a68"/>
<rect x="584" y="411" width="140" height="4" fill="#555"/>
<rect x="584" y="403" width="140" height="10" fill="#4b7396"/>
<rect x="600" y="325" width="8" height="13" fill="#d0683e"/>
<rect x="688" y="325" width="8" height="13" fill="#d0683e"/>
<rect x="608" y="324" width="80" height="16" fill="#6f9dc6"/>
<rect x="624" y="324" width="48" height="17" fill="#9189bd"/>
<rect x="632.8" y="325" width="8" height="18" fill="#2b2760"/>
<rect x="648" y="325" width="13.6" height="18" fill="#26224f"/>
<rect x="616" y="347" width="64" height="5" fill="#f5f1a8" opacity="0.8"/>
<rect x="630" y="344" width="9" height="6" fill="#e07a3e"/>
<rect x="661.5" y="344" width="9" height="6" fill="#e07a3e"/>
<rect x="791.5" y="337" width="9" height="30.8" fill="#d9728f"/>
<rect x="791.5" y="367.8" width="9" height="14.7" fill="#8f8f8f"/>
<rect x="791.5" y="382.6" width="9" height="13.4" fill="#7caa9b"/>
<rect x="791.5" y="396" width="9" height="9" fill="#6b9cc4"/>
<rect x="823.5" y="337" width="9" height="30.8" fill="#d9728f"/>
<rect x="823.5" y="367.8" width="9" height="14.7" fill="#8f8f8f"/>
<rect x="823.5" y="382.6" width="9" height="13.4" fill="#8a9a96"/>
<rect x="823.5" y="396" width="9" height="9" fill="#6b9cc4"/>
<rect x="856" y="337" width="9" height="30.8" fill="#c07890"/>
<rect x="856" y="367.8" width="9" height="14.7" fill="#8f8f8f"/>
<rect x="856" y="382.6" width="9" height="13.4" fill="#7caa9b"/>
<rect x="856" y="396" width="9" height="9" fill="#6b9cc4"/>
<rect x="889.1" y="337" width="9" height="30.8" fill="#d9728f"/>
<rect x="889.1" y="367.8" width="9" height="14.7" fill="#8f8f8f"/>
<rect x="889.1" y="382.6" width="9" height="13.4" fill="#7caa9b"/>
<rect x="889.1" y="396" width="9" height="9" fill="#6b9cc4"/>
<rect x="777" y="325" width="135" height="13" fill="#c4577b"/>
<rect x="777" y="335" width="135" height="3" fill="#a84a68"/>
<rect x="771" y="411" width="141" height="4" fill="#555"/>
<rect x="771" y="403" width="141" height="10" fill="#4b7396"/>
<rect x="771" y="403" width="13" height="11" fill="#7b68a6"/>
<rect x="735" y="292.5" width="22" height="7" fill="#c27890" transform="rotate(20 746 296)"/>
<rect x="786" y="294.5" width="20" height="11" fill="#c0486c" transform="rotate(25 796 300)"/>
<rect x="718.5" y="306" width="15" height="10" fill="#a85876" transform="rotate(35 726 311)"/>
<rect x="758" y="308.5" width="10" height="7" fill="#d888a4" transform="rotate(-30 763 312)"/>
<rect x="730" y="328.5" width="16" height="7" fill="#c08098" transform="rotate(-60 738 332)"/>
<rect x="751" y="331.5" width="22" height="9" fill="#c07890" transform="rotate(75 762 336)"/>
<rect x="741" y="351" width="18" height="6" fill="#8a8a8a" transform="rotate(28 750 354)"/>
<rect x="754" y="369" width="12" height="8" fill="#8c8c8c" transform="rotate(-25 760 373)"/>
<rect x="723" y="381" width="16" height="6" fill="#909090" transform="rotate(40 731 384)"/>
<rect x="748" y="390" width="22" height="8" fill="#82b8a4" transform="rotate(-30 759 394)"/>
<rect x="717" y="425.5" width="14" height="9" fill="#707070" transform="rotate(-30 724 430)"/>
<rect x="745" y="420" width="12" height="8" fill="#808080" transform="rotate(-45 751 424)"/>
<rect x="767" y="427.5" width="16" height="11" fill="#5e56a0" transform="rotate(-30 775 433)"/>
<line x1="578" y1="364" x2="520" y2="364" stroke="#3a3a3a" stroke-width="6"/>
<polygon points="502,364 523,353.5 523,374.5" fill="#3f6f94"/>
<rect x="212.8" y="335.5" width="8.5" height="32.7" fill="#d9728f"/>
<rect x="212.8" y="368.2" width="8.5" height="15.6" fill="#8f8f8f"/>
<rect x="212.8" y="383.8" width="8.5" height="14.2" fill="#8a9a96"/>
<rect x="212.8" y="398" width="8.5" height="9.5" fill="#6b9cc4"/>
<rect x="241.8" y="335.5" width="8.5" height="32.7" fill="#c07890"/>
<rect x="241.8" y="368.2" width="8.5" height="15.6" fill="#8f8f8f"/>
<rect x="241.8" y="383.8" width="8.5" height="14.2" fill="#7caa9b"/>
<rect x="241.8" y="398" width="8.5" height="9.5" fill="#6b9cc4"/>
<rect x="271.4" y="335.5" width="8.5" height="32.7" fill="#d9728f"/>
<rect x="271.4" y="368.2" width="8.5" height="15.6" fill="#8f8f8f"/>
<rect x="271.4" y="383.8" width="8.5" height="14.2" fill="#7caa9b"/>
<rect x="271.4" y="398" width="8.5" height="9.5" fill="#6b9cc4"/>
<rect x="300.8" y="335.5" width="8.5" height="32.7" fill="#d9728f"/>
<rect x="300.8" y="368.2" width="8.5" height="15.6" fill="#8f8f8f"/>
<rect x="300.8" y="383.8" width="8.5" height="14.2" fill="#8a9a96"/>
<rect x="300.8" y="398" width="8.5" height="9.5" fill="#6b9cc4"/>
<rect x="200.5" y="323" width="129.5" height="13.5" fill="#c4577b"/>
<rect x="200.5" y="333.5" width="129.5" height="3" fill="#a84a68"/>
<rect x="200.5" y="414" width="129.5" height="4" fill="#555"/>
<rect x="200.5" y="405.5" width="129.5" height="10.5" fill="#4b7396"/>
<rect x="393.4" y="335.5" width="8.5" height="32.7" fill="#d9728f"/>
<rect x="393.4" y="368.2" width="8.5" height="15.6" fill="#8f8f8f"/>
<rect x="393.4" y="383.8" width="8.5" height="14.2" fill="#7caa9b"/>
<rect x="393.4" y="398" width="8.5" height="9.5" fill="#6b9cc4"/>
<rect x="423.8" y="335.5" width="8.5" height="32.7" fill="#d9728f"/>
<rect x="423.8" y="368.2" width="8.5" height="15.6" fill="#8f8f8f"/>
<rect x="423.8" y="383.8" width="8.5" height="14.2" fill="#8a9a96"/>
<rect x="423.8" y="398" width="8.5" height="9.5" fill="#6b9cc4"/>
<rect x="452.8" y="335.5" width="8.5" height="32.7" fill="#b5748a"/>
<rect x="452.8" y="368.2" width="8.5" height="15.6" fill="#8f8f8f"/>
<rect x="452.8" y="383.8" width="8.5" height="14.2" fill="#7caa9b"/>
<rect x="452.8" y="398" width="8.5" height="9.5" fill="#6b9cc4"/>
<rect x="482.4" y="335.5" width="8.5" height="32.7" fill="#d9728f"/>
<rect x="482.4" y="368.2" width="8.5" height="15.6" fill="#8f8f8f"/>
<rect x="482.4" y="383.8" width="8.5" height="14.2" fill="#7caa9b"/>
<rect x="482.4" y="398" width="8.5" height="9.5" fill="#6b9cc4"/>
<rect x="385" y="323" width="115" height="13.5" fill="#c4577b"/>
<rect x="385" y="333.5" width="115" height="3" fill="#a84a68"/>
<rect x="380" y="414" width="120" height="4" fill="#555"/>
<rect x="380" y="405.5" width="120" height="10.5" fill="#4b7396"/>
<rect x="208" y="323" width="8" height="13.5" fill="#d0683e"/>
<rect x="296" y="323" width="8" height="13.5" fill="#d0683e"/>
<rect x="216" y="322" width="80" height="16.5" fill="#6f9dc6"/>
<rect x="232" y="322" width="48" height="17.5" fill="#9189bd"/>
<rect x="240.8" y="323" width="8" height="18.5" fill="#2b2760"/>
<rect x="256" y="323" width="13.6" height="18.5" fill="#26224f"/>
<rect x="224" y="345.5" width="64" height="5" fill="#f5f1a8" opacity="0.8"/>
<rect x="308" y="323" width="10" height="13.5" fill="#c8604a"/>
<rect x="390" y="323" width="9" height="13.5" fill="#c8604a"/>
<rect x="225" y="405.5" width="16" height="10.5" fill="#7b68a6"/><rect x="465" y="405.5" width="16" height="10.5" fill="#7b68a6"/>
<rect x="241.8" y="343" width="8.5" height="6" fill="#e08a4a"/>
<rect x="271.4" y="343" width="8.5" height="6" fill="#e08a4a"/>
<circle cx="333" cy="329" r="14" fill="#a5b380"/>
<path d="M322,336 a14,14 0 0 0 22,0 a16,10 0 0 1 -22,0" fill="#a9c244" opacity="0.9"/>
<circle cx="356" cy="329" r="14" fill="#a5b380"/>
<path d="M345,336 a14,14 0 0 0 22,0 a16,10 0 0 1 -22,0" fill="#a9c244" opacity="0.9"/>
<circle cx="378" cy="329" r="14" fill="#a5b380"/>
<path d="M367,336 a14,14 0 0 0 22,0 a16,10 0 0 1 -22,0" fill="#a9c244" opacity="0.9"/>
<circle cx="327" cy="411" r="14" fill="#a5b380"/>
<circle cx="350" cy="411" r="14" fill="#a5b380"/>
<circle cx="372" cy="411" r="14" fill="#a5b380"/>
<circle cx="372" cy="414" r="11" fill="#a9bd55"/>
<circle cx="354" cy="408" r="6" fill="#161616"/>
<line x1="356" y1="418" x2="365" y2="472" stroke="#2b2b2b" stroke-width="2.5" stroke-dasharray="9 6"/>
<text x="259.5" y="504" font-size="37">recA protein</text>
<rect x="2131.5" y="3" width="846.5" height="588.5" fill="#f9f9f9" stroke="#2b2b2b" stroke-width="2.6"/>
<rect x="2136" y="7.5" width="837.5" height="579.5" fill="none" stroke="#d8d8d8" stroke-width="1.5"/>
<defs>
<pattern id="tails" width="7.5" height="10" patternUnits="userSpaceOnUse"><rect width="7.5" height="10" fill="#f5bfd0"/><rect x="0" width="2.2" height="10" fill="#f8eaef"/><rect x="4.4" width="1" height="10" fill="#ecb0c4"/></pattern>
<pattern id="tailsg" width="7.5" height="10" patternUnits="userSpaceOnUse"><rect width="7.5" height="10" fill="#e3e3e3"/><rect x="0" width="2.6" height="10" fill="#f4f4f4"/><rect x="4.6" width="1" height="10" fill="#cfcfcf"/></pattern>
<pattern id="hd" width="11.6" height="12" patternUnits="userSpaceOnUse"><circle cx="5.8" cy="6" r="5.3" fill="#6f6f6f"/></pattern>
<pattern id="hdm" width="11.6" height="12" patternUnits="userSpaceOnUse"><circle cx="5.8" cy="6" r="5.3" fill="#97607c"/></pattern>
<pattern id="hdp" width="11.6" height="12" patternUnits="userSpaceOnUse"><circle cx="5.8" cy="6" r="5.3" fill="#9a5ea6"/></pattern>
<pattern id="pg1" width="19" height="12" patternUnits="userSpaceOnUse"><rect y="4.8" width="19" height="2.4" fill="#6f6f6f"/><circle cx="9.5" cy="6" r="4.8" fill="#6f6f6f"/></pattern>
<pattern id="pg2" width="19" height="12" patternUnits="userSpaceOnUse"><rect y="4.5" width="19" height="3" fill="#7a6eae"/><circle cx="9.5" cy="6" r="5.2" fill="#6f63a3"/></pattern>
<pattern id="pgx" width="38" height="22" patternUnits="userSpaceOnUse"><rect width="38" height="22" fill="#e3dcfb"/><path d="M8,0 L24,22" stroke="#8f86c4" stroke-width="3"/><rect x="27" width="11" height="22" fill="#ededf6"/></pattern>
</defs>
<rect x="2163" y="203" width="762" height="11" fill="#8c6a7c"/>
<rect x="2176" y="203" width="20" height="11" fill="#9a62a4"/>
<rect x="2436" y="203" width="16" height="11" fill="#9a62a4"/>
<rect x="2490" y="203" width="30" height="11" fill="#9a62a4"/>
<rect x="2640" y="203" width="20" height="11" fill="#9a62a4"/>
<rect x="2784" y="203" width="16" height="11" fill="#9a62a4"/>
<rect x="2848" y="203" width="18" height="11" fill="#9a62a4"/>
<rect x="2163" y="203" width="13" height="11" fill="#757575"/>
<rect x="2330" y="203" width="15" height="11" fill="#757575"/>
<rect x="2420" y="203" width="16" height="11" fill="#757575"/>
<rect x="2660" y="203" width="20" height="11" fill="#757575"/>
<rect x="2768" y="203" width="16" height="11" fill="#757575"/>
<rect x="2905" y="203" width="20" height="11" fill="#757575"/>
<g transform="translate(2163,214)"><rect width="762" height="58" fill="url(#tails)" /></g>
<g transform="translate(2163,239)"><rect width="762" height="12" fill="url(#tailsg)" /></g>
<g transform="translate(2163,214)"><rect width="15" height="58" fill="url(#tailsg)" /></g>
<g transform="translate(2645,214)"><rect width="27" height="58" fill="url(#tailsg)" /></g>
<g transform="translate(2776,214)"><rect width="10" height="58" fill="url(#tailsg)" /></g>
<g transform="translate(2900,214)"><rect width="25" height="58" fill="url(#tailsg)" /></g>
<rect x="2176" y="214" width="20" height="10" fill="#e7b6f0" opacity="0.8"/>
<rect x="2640" y="214" width="20" height="10" fill="#e7b6f0" opacity="0.8"/>
<rect x="2784" y="214" width="16" height="10" fill="#e7b6f0" opacity="0.8"/>
<rect x="2848" y="214" width="18" height="10" fill="#e7b6f0" opacity="0.8"/>
<g transform="translate(2163,270)"><rect width="762" height="12" fill="url(#hd)" /></g>
<rect x="2163" y="283" width="754" height="27" fill="#e4e4e4"/>
<rect x="2163" y="352" width="754" height="33" fill="#e4e4e4"/>
<g transform="translate(2163,322)"><rect width="748" height="22" fill="url(#pgx)" /></g>
<g transform="translate(2163,314.5)"><rect width="752" height="12" fill="url(#pg1)" /></g>
<g transform="translate(2163,339)"><rect width="752" height="12" fill="url(#pg2)" /></g>
<g transform="translate(2163,388.5)"><rect width="762" height="12" fill="url(#hd)" /></g>
<g transform="translate(2163,400)"><rect width="762" height="55" fill="url(#tails)" /></g>
<g transform="translate(2163,420)"><rect width="762" height="15" fill="url(#tailsg)" /></g>
<g transform="translate(2163,400)"><rect width="17" height="55" fill="url(#tailsg)" /></g>
<g transform="translate(2300,400)"><rect width="40" height="55" fill="url(#tailsg)" /></g>
<g transform="translate(2430,400)"><rect width="15" height="55" fill="url(#tailsg)" /></g>
<g transform="translate(2640,400)"><rect width="32" height="55" fill="url(#tailsg)" /></g>
<g transform="translate(2776,400)"><rect width="24" height="55" fill="url(#tailsg)" /></g>
<g transform="translate(2905,400)"><rect width="20" height="55" fill="url(#tailsg)" /></g>
<g transform="translate(2163,453.5)"><rect width="762" height="12" fill="url(#hdm)" /></g>
<g transform="translate(2209.4,453.5)"><rect width="81.2" height="12" fill="url(#hdp)" /></g>
<rect x="2209.4" y="445" width="81.2" height="9" fill="#f0b8f0" opacity="0.45"/>
<g transform="translate(2476.2,453.5)"><rect width="81.2" height="12" fill="url(#hdp)" /></g>
<rect x="2476.2" y="445" width="81.2" height="9" fill="#f0b8f0" opacity="0.45"/>
<g transform="translate(2592.2,453.5)"><rect width="58" height="12" fill="url(#hdp)" /></g>
<rect x="2592.2" y="445" width="58" height="9" fill="#f0b8f0" opacity="0.45"/>
<g transform="translate(2835.8,453.5)"><rect width="69.6" height="12" fill="url(#hdp)" /></g>
<rect x="2835.8" y="445" width="69.6" height="9" fill="#f0b8f0" opacity="0.45"/>
<g transform="translate(2163,453.5)"><rect width="23.2" height="12" fill="url(#hd)" /></g>
<g transform="translate(2429.8,453.5)"><rect width="23.2" height="12" fill="url(#hd)" /></g>
<g transform="translate(2777.8,453.5)"><rect width="23.2" height="12" fill="url(#hd)" /></g>
<g transform="translate(2905.4,453.5)"><rect width="23.2" height="12" fill="url(#hd)" /></g>
<path d="M2186,205 V159 h9 l4,-2" fill="none" stroke="#6e6e6e" stroke-width="3"/>
<path d="M2270,205 V159 h9 l4,-2" fill="none" stroke="#6e6e6e" stroke-width="3"/>
<path d="M2436,205 V159 h9 l4,-2" fill="none" stroke="#6e6e6e" stroke-width="3"/>
<path d="M2517,205 V159 h9 l4,-2" fill="none" stroke="#6e6e6e" stroke-width="3"/>
<path d="M2609,205 V159 h9 l4,-2" fill="none" stroke="#6e6e6e" stroke-width="3"/>
<path d="M2777,205 V159 h9 l4,-2" fill="none" stroke="#6e6e6e" stroke-width="3"/>
<path d="M2856,205 V159 h9 l4,-2" fill="none" stroke="#6e6e6e" stroke-width="3"/>
<path d="M2227,205 V177 M2227,179 l9,4 l-9,4" fill="none" stroke="#6e6e6e" stroke-width="3"/>
<path d="M2310,205 V177 M2310,179 l9,4 l-9,4" fill="none" stroke="#6e6e6e" stroke-width="3"/>
<path d="M2475.5,205 V177 M2475.5,179 l9,4 l-9,4" fill="none" stroke="#6e6e6e" stroke-width="3"/>
<path d="M2568.6,205 V177 M2568.6,179 l9,4 l-9,4" fill="none" stroke="#6e6e6e" stroke-width="3"/>
<path d="M2652,205 V177 M2652,179 l9,4 l-9,4" fill="none" stroke="#6e6e6e" stroke-width="3"/>
<path d="M2816,205 V177 M2816,179 l9,4 l-9,4" fill="none" stroke="#6e6e6e" stroke-width="3"/>
<path d="M2897,205 V177 M2897,179 l9,4 l-9,4" fill="none" stroke="#6e6e6e" stroke-width="3"/>
<rect x="2206" y="208" width="51" height="75" rx="19" fill="#8479ab"/>
<rect x="2199" y="214" width="8" height="56" fill="#ddd6ff" opacity="0.8"/>
<rect x="2525" y="191" width="45" height="101" rx="20" fill="#cd7791"/>
<rect x="2526" y="283" width="40" height="25" fill="#f6c9d6" opacity="0.8"/>
<rect x="2525" y="191" width="45" height="101" rx="20" fill="#cd7791"/>
<path d="M2340,146 q-18,2 -24,14 M2340,146 q14,-14 40,-10 M2338,150 q-10,12 -10,30" fill="none" stroke="#8a8a9a" stroke-width="2.5"/>
<path d="M2322,170 q2,-12 14,-20" fill="none" stroke="#b9b0f0" stroke-width="5"/>
<line x1="2303" y1="93" x2="2341" y2="146" stroke="#b4b4c4" stroke-width="8"/>
<line x1="2303" y1="93" x2="2316" y2="111" stroke="#b9b4ea" stroke-width="9"/>
<polygon points="2314.5,73 2301.8,95.1 2276.2,95.1 2263.5,73 2276.2,50.9 2301.8,50.9" fill="#9a95c4" />
<polygon points="2263.5,73 2276,51 2292,51 2306,95 2276,95" fill="#7a9ec0"/>
<rect x="2360" y="153" width="48" height="307" fill="#5f8fb4"/><path d="M2336,154 Q2336,143 2349,143 L2369,143 Q2382,143 2382,154 V465.3 A23,20.7 0 0 1 2336,465.3 Z" fill="#7098b9" stroke="#5c83ad" stroke-width="2"/><rect x="2348.9" y="155" width="23" height="316.6" fill="#7a97dc"/><path d="M2386,154 Q2386,143 2399,143 L2419,143 Q2432,143 2432,154 V465.3 A23,20.7 0 0 1 2386,465.3 Z" fill="#7098b9" stroke="#5c83ad" stroke-width="2"/><rect x="2394.3" y="155" width="23" height="316.6" fill="#7a97dc"/>
<path d="M2366,143 L2384,160 L2402,143 L2402,166 L2366,166 Z" fill="#6a5ea0" opacity="0.6"/>
<rect x="2369" y="384" width="23" height="55" rx="4" fill="#d0d0d0"/>
<rect x="2369" y="384" width="23" height="18" fill="#84a9c9"/>
<rect x="2369" y="401" width="23" height="6" fill="#5fc2a4"/>
<rect x="2369" y="431" width="23" height="8" fill="#a9dcf4"/>
<line x1="2385" y1="112" x2="2385" y2="372" stroke="#0a1622" stroke-width="8"/>
<line x1="2385" y1="440" x2="2385" y2="486" stroke="#0a1622" stroke-width="6"/>
<polygon points="2385,92 2397,116 2373,116" fill="#0a0a0a"/>
<rect x="2698.5" y="151.8" width="50" height="307.5" fill="#858585"/><path d="M2673.5,154.6 A24,21.6 0 0 1 2721.5,154.6 V456.4 A24,21.6 0 0 1 2673.5,456.4 Z" fill="#8f8f8f" stroke="#6c6c6c" stroke-width="2"/><rect x="2686.9" y="146.8" width="24" height="317.5" fill="#8f8f8f"/><path d="M2725.5,154.6 A24,21.6 0 0 1 2773.5,154.6 V456.4 A24,21.6 0 0 1 2725.5,456.4 Z" fill="#8f8f8f" stroke="#6c6c6c" stroke-width="2"/><rect x="2734.1" y="146.8" width="24" height="317.5" fill="#8f8f8f"/>
<line x1="2718" y1="150" x2="2718" y2="466" stroke="#777" stroke-width="2"/><line x1="2729" y1="150" x2="2729" y2="466" stroke="#777" stroke-width="2"/>
<line x1="2859" y1="84" x2="2817" y2="138" stroke="#999" stroke-width="7"/>
<polygon points="2897.6,68.3 2881.6,87.5 2856.9,83.2 2848.4,59.7 2864.4,40.5 2889.1,44.8" fill="#858585" />
<path d="M2817,138 q-14,-16 -44,-12 M2817,138 q-16,-6 -30,0 M2817,138 q14,2 16,26 M2818,140 q6,12 2,22 M2846,100 l8,6 M2842,94 l-10,-2" fill="none" stroke="#8c8c8c" stroke-width="2.6"/>
<path d="M2456,89 Q2530,40 2596,90 L2590,97 Q2530,53 2456,89 Z" fill="#3a3a3a"/>
<path d="M2456,89 Q2500,62 2540,62" fill="none" stroke="#777" stroke-width="1.5"/>
<polygon points="2609,100 2570,92 2592,66" fill="#333"/>
<g transform="translate(2324.5,530.5) rotate(0)"><path d="M-12,0 V-21.5 A12,12 0 0 1 12,-21.5 V0 Z" fill="#7fbfaa"/><path d="M-12,0 V21.5 A12,12 0 0 0 12,21.5 V0 Z" fill="#d2d2d2"/></g>
<rect x="2312.5" y="518" width="24" height="10" fill="#5fc2a4"/>
<g transform="translate(2380,530.5) rotate(0)"><path d="M-12,0 V-21.5 A12,12 0 0 1 12,-21.5 V0 Z" fill="#7fbfaa"/><path d="M-12,0 V21.5 A12,12 0 0 0 12,21.5 V0 Z" fill="#d2d2d2"/></g>
<rect x="2368" y="518" width="24" height="10" fill="#5fc2a4"/>
<g transform="translate(2444,530.5) rotate(0)"><path d="M-12,0 V-21.5 A12,12 0 0 1 12,-21.5 V0 Z" fill="#7fbfaa"/><path d="M-12,0 V21.5 A12,12 0 0 0 12,21.5 V0 Z" fill="#d2d2d2"/></g>
<rect x="2432" y="518" width="24" height="10" fill="#5fc2a4"/>
<g transform="translate(2667.5,535) rotate(0)"><path d="M-12,0 V-19.5 A12,12 0 0 1 12,-19.5 V0 Z" fill="#6cc4aa"/><path d="M-12,0 V19.5 A12,12 0 0 0 12,19.5 V0 Z" fill="#d2d2d2"/></g>
<g transform="translate(2850,541.5) rotate(0)"><path d="M-12.5,0 V-20 A12.5,12.5 0 0 1 12.5,-20 V0 Z" fill="#7fbfaa"/><path d="M-12.5,0 V20 A12.5,12.5 0 0 0 12.5,20 V0 Z" fill="#d2d2d2"/></g>
<path d="M2712,489 L2792,553 M2792,489 L2712,553" stroke="#6a3a3e" stroke-width="16" fill="none"/>
<path d="M2722,497 L2782,545 M2782,497 L2722,545" stroke="#6d3d1f" stroke-width="16" fill="none"/>
<rect x="2107.5" y="627" width="869.5" height="632" fill="#f9f9f9" stroke="#2b2b2b" stroke-width="2.6"/>
<rect x="2112" y="631.5" width="860.5" height="623" fill="none" stroke="#d8d8d8" stroke-width="1.5"/>
<circle cx="2224.6" cy="678" r="6.3" fill="#c8486c"/>
<circle cx="2224.6" cy="689" r="6.3" fill="#a95274"/>
<circle cx="2224.6" cy="700" r="6.3" fill="#c8486c"/>
<circle cx="2224.6" cy="711" r="6.3" fill="#a95274"/>
<circle cx="2224.6" cy="722" r="6.3" fill="#c8486c"/>
<circle cx="2224.6" cy="733" r="6.3" fill="#a95274"/>
<circle cx="2277.7" cy="678" r="6.3" fill="#c8486c"/>
<circle cx="2277.7" cy="689" r="6.3" fill="#a95274"/>
<circle cx="2277.7" cy="700" r="6.3" fill="#c8486c"/>
<circle cx="2277.7" cy="711" r="6.3" fill="#a95274"/>
<circle cx="2277.7" cy="722" r="6.3" fill="#c8486c"/>
<circle cx="2277.7" cy="733" r="6.3" fill="#a95274"/>
<circle cx="2330.8" cy="678" r="6.3" fill="#c8486c"/>
<circle cx="2330.8" cy="689" r="6.3" fill="#a95274"/>
<circle cx="2330.8" cy="700" r="6.3" fill="#c8486c"/>
<circle cx="2330.8" cy="711" r="6.3" fill="#a95274"/>
<circle cx="2330.8" cy="722" r="6.3" fill="#c8486c"/>
<circle cx="2330.8" cy="733" r="6.3" fill="#a95274"/>
<circle cx="2383.8" cy="678" r="6.3" fill="#c8486c"/>
<circle cx="2383.8" cy="689" r="6.3" fill="#a95274"/>
<circle cx="2383.8" cy="700" r="6.3" fill="#c8486c"/>
<circle cx="2383.8" cy="711" r="6.3" fill="#a95274"/>
<circle cx="2383.8" cy="722" r="6.3" fill="#c8486c"/>
<circle cx="2383.8" cy="733" r="6.3" fill="#a95274"/>
<circle cx="2436.9" cy="678" r="6.3" fill="#c8486c"/>
<circle cx="2436.9" cy="689" r="6.3" fill="#a95274"/>
<circle cx="2436.9" cy="700" r="6.3" fill="#c8486c"/>
<circle cx="2436.9" cy="711" r="6.3" fill="#a95274"/>
<circle cx="2436.9" cy="722" r="6.3" fill="#c8486c"/>
<circle cx="2436.9" cy="733" r="6.3" fill="#a95274"/>
<circle cx="2490.1" cy="678" r="6.3" fill="#c8486c"/>
<circle cx="2490.1" cy="689" r="6.3" fill="#a95274"/>
<circle cx="2490.1" cy="700" r="6.3" fill="#c8486c"/>
<circle cx="2490.1" cy="711" r="6.3" fill="#a95274"/>
<circle cx="2490.1" cy="722" r="6.3" fill="#c8486c"/>
<circle cx="2490.1" cy="733" r="6.3" fill="#a95274"/>
<circle cx="2204.6" cy="698" r="6.3" fill="#c8486c"/>
<circle cx="2204.6" cy="708.6" r="6.3" fill="#a95274"/>
<circle cx="2204.6" cy="719.2" r="6.3" fill="#c8486c"/>
<circle cx="2204.6" cy="729.8" r="6.3" fill="#a95274"/>
<circle cx="2204.6" cy="740.4" r="6.3" fill="#c8486c"/>
<circle cx="2204.6" cy="751" r="6.3" fill="#a95274"/>
<line x1="2209.6" y1="705" x2="2221.6" y2="716" stroke="#c8486c" stroke-width="2.5"/>
<circle cx="2257.8" cy="698" r="6.3" fill="#c8486c"/>
<circle cx="2257.8" cy="708.6" r="6.3" fill="#a95274"/>
<circle cx="2257.8" cy="719.2" r="6.3" fill="#c8486c"/>
<circle cx="2257.8" cy="729.8" r="6.3" fill="#a95274"/>
<circle cx="2257.8" cy="740.4" r="6.3" fill="#c8486c"/>
<circle cx="2257.8" cy="751" r="6.3" fill="#a95274"/>
<line x1="2262.8" y1="705" x2="2274.8" y2="716" stroke="#c8486c" stroke-width="2.5"/>
<circle cx="2311" cy="698" r="6.3" fill="#c8486c"/>
<circle cx="2311" cy="708.6" r="6.3" fill="#a95274"/>
<circle cx="2311" cy="719.2" r="6.3" fill="#c8486c"/>
<circle cx="2311" cy="729.8" r="6.3" fill="#a95274"/>
<circle cx="2311" cy="740.4" r="6.3" fill="#c8486c"/>
<circle cx="2311" cy="751" r="6.3" fill="#a95274"/>
<line x1="2316" y1="705" x2="2328" y2="716" stroke="#c8486c" stroke-width="2.5"/>
<circle cx="2364.2" cy="698" r="6.3" fill="#c8486c"/>
<circle cx="2364.2" cy="708.6" r="6.3" fill="#a95274"/>
<circle cx="2364.2" cy="719.2" r="6.3" fill="#c8486c"/>
<circle cx="2364.2" cy="729.8" r="6.3" fill="#a95274"/>
<circle cx="2364.2" cy="740.4" r="6.3" fill="#c8486c"/>
<circle cx="2364.2" cy="751" r="6.3" fill="#a95274"/>
<line x1="2369.2" y1="705" x2="2381.2" y2="716" stroke="#c8486c" stroke-width="2.5"/>
<circle cx="2417.4" cy="698" r="6.3" fill="#c8486c"/>
<circle cx="2417.4" cy="708.6" r="6.3" fill="#a95274"/>
<circle cx="2417.4" cy="719.2" r="6.3" fill="#c8486c"/>
<circle cx="2417.4" cy="729.8" r="6.3" fill="#a95274"/>
<circle cx="2417.4" cy="740.4" r="6.3" fill="#c8486c"/>
<circle cx="2417.4" cy="751" r="6.3" fill="#a95274"/>
<line x1="2422.4" y1="705" x2="2434.4" y2="716" stroke="#c8486c" stroke-width="2.5"/>
<circle cx="2470.6" cy="698" r="6.3" fill="#c8486c"/>
<circle cx="2470.6" cy="708.6" r="6.3" fill="#a95274"/>
<circle cx="2470.6" cy="719.2" r="6.3" fill="#c8486c"/>
<circle cx="2470.6" cy="729.8" r="6.3" fill="#a95274"/>
<circle cx="2470.6" cy="740.4" r="6.3" fill="#c8486c"/>
<circle cx="2470.6" cy="751" r="6.3" fill="#a95274"/>
<line x1="2475.6" y1="705" x2="2487.6" y2="716" stroke="#c8486c" stroke-width="2.5"/>
<rect x="2483" y="679" width="14" height="9" fill="#d0683e"/>
<rect x="2258" y="670" width="19" height="62" rx="7" fill="#d4d4d4"/>
<rect x="2258" y="697" width="19" height="34" fill="#66bea2"/>
<ellipse cx="2267.5" cy="732" rx="27" ry="12.5" fill="#3b6687"/>
<ellipse cx="2267.5" cy="724" rx="9" ry="3.5" fill="#4d9a9a"/>
<rect x="2381.5" y="657" width="19" height="62" rx="7" fill="#d4d4d4"/>
<rect x="2381.5" y="684" width="19" height="34" fill="#66bea2"/>
<ellipse cx="2391" cy="722" rx="27" ry="12.5" fill="#3b6687"/>
<ellipse cx="2391" cy="714" rx="9" ry="3.5" fill="#4d9a9a"/>
<polygon points="2211.2,665 2204.6,676.4 2191.4,676.4 2184.8,665 2191.4,653.6 2204.6,653.6" fill="#3e396f" />
<polygon points="2237.8,665 2231.2,676.4 2218,676.4 2211.4,665 2218,653.6 2231.2,653.6" fill="#6b629c" />
<polygon points="2264.3,665 2257.7,676.4 2244.5,676.4 2237.9,665 2244.5,653.6 2257.7,653.6" fill="#3e396f" />
<polygon points="2290.8,665 2284.2,676.4 2271.1,676.4 2264.5,665 2271.1,653.6 2284.2,653.6" fill="#6b629c" />
<polygon points="2317.4,665 2310.8,676.4 2297.6,676.4 2291,665 2297.6,653.6 2310.8,653.6" fill="#3e396f" />
<polygon points="2343.9,665 2337.3,676.4 2324.2,676.4 2317.6,665 2324.2,653.6 2337.3,653.6" fill="#89569a" />
<polygon points="2370.5,665 2363.9,676.4 2350.7,676.4 2344.1,665 2350.7,653.6 2363.9,653.6" fill="#3e396f" />
<polygon points="2397,665 2390.4,676.4 2377.2,676.4 2370.7,665 2377.2,653.6 2390.4,653.6" fill="#6b629c" />
<polygon points="2423.6,665 2417,676.4 2403.8,676.4 2397.2,665 2403.8,653.6 2417,653.6" fill="#3e396f" />
<polygon points="2450.1,665 2443.5,676.4 2430.3,676.4 2423.8,665 2430.3,653.6 2443.5,653.6" fill="#6b629c" />
<polygon points="2476.7,665 2470.1,676.4 2456.9,676.4 2450.3,665 2456.9,653.6 2470.1,653.6" fill="#3e396f" />
<polygon points="2503.2,665 2496.7,676.4 2483.5,676.4 2476.9,665 2483.5,653.6 2496.7,653.6" fill="#89569a" />
<polygon points="2217.8,763 2211.2,774.4 2198,774.4 2191.4,763 2198,751.6 2211.2,751.6" fill="#6b629c" />
<polygon points="2244.4,763 2237.8,774.4 2224.6,774.4 2218,763 2224.6,751.6 2237.8,751.6" fill="#3e396f" />
<polygon points="2271,763 2264.4,774.4 2251.2,774.4 2244.6,763 2251.2,751.6 2264.4,751.6" fill="#6b629c" />
<polygon points="2297.6,763 2291,774.4 2277.8,774.4 2271.2,763 2277.8,751.6 2291,751.6" fill="#3e396f" />
<polygon points="2324.2,763 2317.6,774.4 2304.4,774.4 2297.8,763 2304.4,751.6 2317.6,751.6" fill="#89569a" />
<polygon points="2350.8,763 2344.2,774.4 2331,774.4 2324.4,763 2331,751.6 2344.2,751.6" fill="#3e396f" />
<polygon points="2377.4,763 2370.8,774.4 2357.6,774.4 2351,763 2357.6,751.6 2370.8,751.6" fill="#89569a" />
<polygon points="2404,763 2397.4,774.4 2384.2,774.4 2377.6,763 2384.2,751.6 2397.4,751.6" fill="#3e396f" />
<polygon points="2430.6,763 2424,774.4 2410.8,774.4 2404.2,763 2410.8,751.6 2424,751.6" fill="#6b629c" />
<polygon points="2457.2,763 2450.6,774.4 2437.4,774.4 2430.8,763 2437.4,751.6 2450.6,751.6" fill="#3e396f" />
<polygon points="2483.8,763 2477.2,774.4 2464,774.4 2457.4,763 2464,751.6 2477.2,751.6" fill="#89569a" />
<polygon points="2510.4,763 2503.8,774.4 2490.6,774.4 2484,763 2490.6,751.6 2503.8,751.6" fill="#3e396f" />
<defs><pattern id="sm1" width="5" height="9" patternUnits="userSpaceOnUse"><rect width="5" height="9" fill="#e6e6e6"/><circle cx="2.5" cy="3" r="2.2" fill="#6e6e6e"/><rect x="2" y="4" width="1" height="5" fill="#9a9a9a"/></pattern>
<pattern id="sm2" width="5" height="9" patternUnits="userSpaceOnUse"><rect width="5" height="9" fill="#e6e6e6"/><circle cx="2.5" cy="6" r="2.2" fill="#6e6e6e"/><rect x="2" y="0" width="1" height="5" fill="#9a9a9a"/></pattern></defs>
<rect x="2190" y="787" width="310" height="36" fill="#e4e4e4"/>
<g transform="translate(2190,788)"><rect width="310" height="9" fill="url(#sm1)"/></g>
<g transform="translate(2190,813)"><rect width="310" height="9" fill="url(#sm2)"/></g>
<path d="M2561,747 Q2612,722 2660,760 L2655,766 Q2610,734 2561,747 Z" fill="#4a4a52"/>
<polygon points="2671,772 2644,766 2658,748" fill="#4b467c"/>
<circle cx="2762" cy="713" r="8" fill="#c8486c"/>
<circle cx="2765.8" cy="725.8" r="8" fill="#a95274"/>
<circle cx="2769.6" cy="738.6" r="8" fill="#c8486c"/>
<circle cx="2773.4" cy="751.4" r="8" fill="#a95274"/>
<circle cx="2777.2" cy="764.2" r="8" fill="#c8486c"/>
<circle cx="2781" cy="777" r="8" fill="#a95274"/>
<circle cx="2823" cy="694" r="8" fill="#c8486c"/>
<circle cx="2826.8" cy="706.6" r="8" fill="#a95274"/>
<circle cx="2830.6" cy="719.2" r="8" fill="#c8486c"/>
<circle cx="2834.4" cy="731.8" r="8" fill="#a95274"/>
<circle cx="2838.2" cy="744.4" r="8" fill="#c8486c"/>
<circle cx="2842" cy="757" r="8" fill="#a95274"/>
<circle cx="2886" cy="676" r="8" fill="#c8486c"/>
<circle cx="2889.8" cy="688.2" r="8" fill="#a95274"/>
<circle cx="2893.6" cy="700.4" r="8" fill="#c8486c"/>
<circle cx="2897.4" cy="712.6" r="8" fill="#a95274"/>
<circle cx="2901.2" cy="724.8" r="8" fill="#c8486c"/>
<circle cx="2905" cy="737" r="8" fill="#a95274"/>
<rect x="2753" y="711" width="14" height="9" fill="#d0683e" transform="rotate(15 2760 715)"/>
<line x1="2749" y1="757" x2="2768" y2="757" stroke="#7a7a7a" stroke-width="2.5"/>
<line x1="2809" y1="739" x2="2829" y2="739" stroke="#7a7a7a" stroke-width="2.5"/>
<line x1="2872" y1="717" x2="2892" y2="719" stroke="#7a7a7a" stroke-width="2.5"/>
<polygon points="2740.2,701.6 2736.9,717.2 2721.7,722.2 2709.8,711.4 2713.1,695.8 2728.3,690.8" fill="#3e396f" />
<polygon points="2771,693.6 2767.7,709.2 2752.5,714.2 2740.6,703.4 2743.9,687.8 2759.1,682.8" fill="#6b629c" />
<polygon points="2800.2,682.8 2796.9,698.4 2781.7,703.4 2769.8,692.6 2773.1,677 2788.3,672" fill="#3e396f" />
<polygon points="2831.2,672.1 2827.9,687.7 2812.7,692.7 2800.8,681.9 2804.1,666.3 2819.3,661.3" fill="#6b629c" />
<polygon points="2862.2,664.1 2858.9,679.7 2843.7,684.7 2831.8,673.9 2835.1,658.3 2850.3,653.3" fill="#3e396f" />
<polygon points="2893,652.1 2889.7,667.7 2874.5,672.7 2862.6,661.9 2865.9,646.3 2881.1,641.3" fill="#6b629c" />
<polygon points="2752,700 2768,694 2770,712 2756,716" fill="#8b589c"/>
<circle cx="2731" cy="880" r="8" fill="#c8486c"/>
<circle cx="2733" cy="865.6" r="8" fill="#a95274"/>
<circle cx="2735" cy="851.2" r="8" fill="#c8486c"/>
<circle cx="2737" cy="836.8" r="8" fill="#a95274"/>
<circle cx="2739" cy="822.4" r="8" fill="#c8486c"/>
<circle cx="2741" cy="808" r="8" fill="#a95274"/>
<circle cx="2797" cy="890" r="8" fill="#c8486c"/>
<circle cx="2799.2" cy="875.4" r="8" fill="#a95274"/>
<circle cx="2801.4" cy="860.8" r="8" fill="#c8486c"/>
<circle cx="2803.6" cy="846.2" r="8" fill="#a95274"/>
<circle cx="2805.8" cy="831.6" r="8" fill="#c8486c"/>
<circle cx="2808" cy="817" r="8" fill="#a95274"/>
<circle cx="2864" cy="895" r="8" fill="#c8486c"/>
<circle cx="2866" cy="881" r="8" fill="#a95274"/>
<circle cx="2868" cy="867" r="8" fill="#c8486c"/>
<circle cx="2870" cy="853" r="8" fill="#a95274"/>
<circle cx="2872" cy="839" r="8" fill="#c8486c"/>
<circle cx="2874" cy="825" r="8" fill="#a95274"/>
<line x1="2750" y1="814" x2="2773" y2="830" stroke="#8a8a8a" stroke-width="2.2"/>
<line x1="2816" y1="822" x2="2836" y2="836" stroke="#8a8a8a" stroke-width="2.2"/>
<line x1="2882" y1="829" x2="2900" y2="840" stroke="#8a8a8a" stroke-width="2.2"/>
<polygon points="2746.3,897.8 2736.2,910.8 2719.8,908.5 2713.7,893.2 2723.8,880.2 2740.2,882.5" fill="#89569a" />
<polygon points="2780.3,900.3 2770.2,913.3 2753.8,911 2747.7,895.7 2757.8,882.7 2774.2,885" fill="#3e396f" />
<polygon points="2812.3,907.3 2802.2,920.3 2785.8,918 2779.7,902.7 2789.8,889.7 2806.2,892" fill="#89569a" />
<polygon points="2845.8,909.9 2835.7,922.9 2819.3,920.6 2813.2,905.3 2823.3,892.3 2839.7,894.6" fill="#3e396f" />
<polygon points="2879.3,913.9 2869.2,926.9 2852.8,924.6 2846.7,909.3 2856.8,896.3 2873.2,898.6" fill="#6b629c" />
<polygon points="2912.9,917.9 2902.8,930.9 2886.4,928.6 2880.3,913.3 2890.4,900.3 2906.8,902.6" fill="#3e396f" />
<rect x="2802" y="893" width="12" height="24" fill="#6b629c"/>
<path d="M2727,931 Q2680,972 2612,961 L2613,953 Q2676,958 2727,931 Z" fill="#55555c"/>
<path d="M2727,931 Q2700,952 2672,959" fill="none" stroke="#cfcfcf" stroke-width="2"/>
<polygon points="2589,945 2625,944 2620,972" fill="#4b467c"/>
<rect x="2430" y="929" width="151.5" height="45.5" rx="22.7" fill="#9f69a9" stroke="#c38fd0" stroke-width="2"/>
<rect x="2511" y="936" width="50" height="6" rx="3" fill="#b98ac4" opacity="0.8"/>
<line x1="2414" y1="954" x2="2366" y2="954" stroke="#3a3a3a" stroke-width="5"/>
<polygon points="2351,954 2369,945 2369,963" fill="#5b2b6c"/>
<path d="M2164,944 C2190,958 2205,966 2225,962 C2255,956 2275,930 2305,931 C2320,932 2328,938 2331,941 L2331,962 C2322,954 2312,951 2302,952 C2276,955 2258,981 2222,985 C2198,984 2178,972 2165,962 Z" fill="#b07cbf"/>
<path d="M2165,962 C2178,972 2198,984 2222,985 C2258,981 2276,955 2302,952 L2300,946 C2272,950 2256,975 2222,978 C2200,978 2180,968 2165,956 Z" fill="#9a6aa8"/>
<path d="M2275,939 C2290,930 2312,928 2331,941 L2331,950 C2314,938 2296,936 2280,942 Z" fill="#8e7a8e" opacity="0.7"/>
<text x="2234" y="1030" font-size="37">bacterial filamentation</text>
<path d="M2745,961 Q2700,1045 2575,1066 L2577,1056 Q2694,1036 2745,961 Z" fill="#56556a"/>
<path d="M2745,961 Q2722,1003 2680,1030" fill="none" stroke="#d8d8d8" stroke-width="3"/>
<polygon points="2516,1077 2581,1051 2583,1088" fill="#4b467c"/>
<path d="M2282,1049 h36 v10 h12 v58 l-12,18 l-10,-22 l-8,-10 h-12 v-20 h-14 v-22 h8 z" fill="#e9bdf2"/>
<rect x="2290" y="1056" width="30" height="22" fill="#f2c4d2"/><rect x="2318" y="1060" width="10" height="52" fill="#d9d9d9"/><rect x="2272" y="1068" width="12" height="18" fill="#e2dce2"/>
<path d="M2300,1078 h20 v40 l-6,14 l-8,-18 z" fill="#e9bdf2"/>
<path d="M2274,1148 C2272,1126 2292,1118 2306,1120 L2316,1136 L2326,1118 C2350,1112 2362,1126 2390,1124 C2420,1118 2444,1128 2443,1150 C2444,1172 2420,1184 2392,1178 C2370,1170 2350,1170 2330,1178 C2300,1186 2276,1174 2274,1148 Z" fill="#9f69a9"/>
<rect x="2376" y="1136" width="40" height="7" rx="3" fill="#b98ac4" opacity="0.8"/>
<path d="M2338,1112 q2,-12 8,-16 q2,8 -4,18 z M2352,1112 l8,-8 l2,4 z M2356,1104 l8,-6" fill="#9f69a9" stroke="#9f69a9" stroke-width="2"/>
<path d="M2296,1106 l8,8 M2306,1108 l-10,0" stroke="#b58cc0" stroke-width="2.5"/>
<text x="2249" y="1218" font-size="37">Bacterial <tspan font-size="30.6">cell lysis</tspan></text>
<rect x="578" y="1299.5" width="2163" height="247" rx="48" ry="48" fill="none" stroke="#4c4c4c" stroke-width="2.6" stroke-dasharray="21 7"/>
<g transform="translate(744.5,1392) rotate(0)"><path d="M-24.5,0 V-45 A24.5,24.5 0 0 1 24.5,-45 V0 Z" fill="#d1d1d1"/><path d="M-24.5,0 V45 A24.5,24.5 0 0 0 24.5,45 V0 Z" fill="#6cc4ac"/></g>
<rect x="720" y="1392" width="49" height="16" fill="#86b8a8"/>
<rect x="731" y="1345" width="4" height="100" fill="#fff" opacity="0.35"/>
<rect x="720" y="1347" width="7" height="90" fill="#000" opacity="0.06"/>
<polygon points="1051,1354 1064.4,1373.6 1087.1,1380.3 1072.7,1399 1073.3,1422.7 1051,1414.8 1028.7,1422.7 1029.3,1399 1014.9,1380.3 1037.6,1373.6" fill="#c4685e" stroke="#c4685e" stroke-width="21" stroke-linejoin="round"/>
<circle cx="1075" cy="1418" r="9" fill="#b8785a" opacity="0.6"/>
<path d="M1369,1341 C1376.8,1340.8 1386.5,1340.2 1393,1343 C1399.5,1345.8 1405,1352.2 1408,1358 C1411,1363.8 1409.7,1371.7 1411,1378 C1412.3,1384.3 1416.5,1389.3 1416,1396 C1415.5,1402.7 1412.3,1412 1408,1418 C1403.7,1424 1395.3,1428.3 1390,1432 C1384.7,1435.7 1380.3,1437.5 1376,1440 C1371.7,1442.5 1368,1447.3 1364,1447 C1360,1446.7 1356.3,1440.5 1352,1438 C1347.7,1435.5 1341.7,1436.3 1338,1432 C1334.3,1427.7 1332.7,1418 1330,1412 C1327.3,1406 1322.3,1402 1322,1396 C1321.7,1390 1326.7,1382.7 1328,1376 C1329.3,1369.3 1327,1361.3 1330,1356 C1333,1350.7 1339.5,1346.5 1346,1344 C1352.5,1341.5 1361.2,1341.2 1369,1341Z" fill="#a4b27e"/>
<circle cx="1392" cy="1380" r="16" fill="#8fc07a" opacity="0.55"/><circle cx="1362" cy="1424" r="15" fill="#8fc46a" opacity="0.6"/><circle cx="1366" cy="1438" r="9" fill="#98b840" opacity="0.8"/><circle cx="1408" cy="1398" r="7" fill="#a8c040" opacity="0.6"/>
<path d="M1651,1347 A28,28 0 0 0 1707,1347 A71,44 0 1 1 1651,1347 Z" fill="#3a6182"/>
<path d="M1614,1408 A71,44 0 0 0 1745,1408 A80,40 0 0 1 1614,1408Z" fill="#5a4a8a" opacity="0.35"/>
<g transform="translate(1930,1393) rotate(40.5)"><rect x="-82" y="-13" width="164" height="26" rx="13" fill="#7ba1c6"/><rect x="-82" y="-13" width="40" height="26" rx="13" fill="#8f95d0"/><rect x="-30" y="-13" width="22" height="26" fill="#7a97dc"/><rect x="-16" y="-13" width="34" height="26" fill="#8e87be"/><rect x="-18" y="-13" width="14" height="26" fill="#2b2760"/><rect x="6" y="-13" width="24" height="26" fill="#26224f"/><rect x="-82" y="8" width="164" height="5" rx="2" fill="#a9a0e0" opacity="0.5"/></g>
<circle cx="2270" cy="1351" r="7.5" fill="#c8486c"/>
<circle cx="2270" cy="1364.4" r="7.5" fill="#a95274"/>
<circle cx="2270" cy="1377.8" r="7.5" fill="#c8486c"/>
<circle cx="2270" cy="1391.2" r="7.5" fill="#a95274"/>
<circle cx="2270" cy="1404.6" r="7.5" fill="#c8486c"/>
<circle cx="2270" cy="1418" r="7.5" fill="#a95274"/>
<circle cx="2231" cy="1378" r="7.5" fill="#c8486c"/>
<circle cx="2231" cy="1390" r="7.5" fill="#a95274"/>
<circle cx="2231" cy="1402" r="7.5" fill="#c8486c"/>
<circle cx="2231" cy="1414" r="7.5" fill="#a95274"/>
<circle cx="2231" cy="1426" r="7.5" fill="#c8486c"/>
<circle cx="2231" cy="1438" r="7.5" fill="#a95274"/>
<line x1="2238" y1="1378" x2="2263" y2="1393" stroke="#c8486c" stroke-width="3"/>
<polygon points="2248.5,1334 2239.8,1349.2 2222.2,1349.2 2213.5,1334 2222.2,1318.8 2239.8,1318.8" fill="#3e396f" />
<polygon points="2287.5,1334 2278.8,1349.2 2261.2,1349.2 2252.5,1334 2261.2,1318.8 2278.8,1318.8" fill="#7a5c9c" />
<polygon points="2248.5,1450 2239.8,1465.2 2222.2,1465.2 2213.5,1450 2222.2,1434.8 2239.8,1434.8" fill="#7a5c9c" />
<polygon points="2287.5,1450 2278.8,1465.2 2261.2,1465.2 2252.5,1450 2261.2,1434.8 2278.8,1434.8" fill="#3e396f" />
<rect x="2216" y="1456" width="30" height="9" fill="#6b5a96"/><rect x="2255" y="1456" width="30" height="9" fill="#33306a"/>
<line x1="2598.7" y1="1372" x2="2598.7" y2="1444" stroke="#b3b3bb" stroke-width="8"/>
<polygon points="2590,1374 2607,1374 2602,1392 2595,1392" fill="#a9a4d8"/>
<path d="M2588,1386 l-6,6 M2609,1386 l6,6" stroke="#9a9ab0" stroke-width="2"/>
<polygon points="2598.7,1316 2622.5,1331 2622.5,1360 2598.7,1375 2575,1360 2575,1331" fill="#7a9ec0"/>
<polygon points="2598.7,1316 2622.5,1331 2598.7,1338 2575,1331" fill="#8fa9cc"/>
<path d="M2598,1444 q-24,-4 -38,16 M2598,1444 q-18,0 -24,16 M2599,1444 q24,-4 40,16 M2599,1444 q18,0 24,16 M2598,1444 q-10,4 -12,14 M2599,1444 q10,4 12,14" fill="none" stroke="#8a80c4" stroke-width="2.4"/>
<text x="659" y="1525.5" font-size="42.5">antibiotic</text>
<text x="933.6" y="1525.5" font-size="42.5">Depolymerase</text>
<text x="1275" y="1525.5" font-size="42.5">recA protein</text>
<text x="1550.6" y="1525.5" font-size="42.5">Transpeptidase</text>
<text x="1860.4" y="1525.5" font-size="42.5">recA gene</text>
<text x="2080.7" y="1525.5" font-size="42.5">Peptidoglycan monomer</text>
<text x="2556.8" y="1513" font-size="42.5">Phage</text>
<line x1="968" y1="9" x2="1125" y2="712" stroke="#3a3a3a" stroke-width="3" stroke-dasharray="10 6" fill="none"/>
<line x1="968" y1="560" x2="1125" y2="806" stroke="#3a3a3a" stroke-width="3" stroke-dasharray="10 6" fill="none"/>
<line x1="1958" y1="536" x2="2132" y2="4" stroke="#3a3a3a" stroke-width="3" stroke-dasharray="10 6" fill="none"/>
<line x1="1958" y1="670" x2="2132" y2="592" stroke="#3a3a3a" stroke-width="3" stroke-dasharray="10 6" fill="none"/>
<path d="M2129,629 Q2040,770 1948,922" stroke="#3a3a3a" stroke-width="3" stroke-dasharray="10 6" fill="none"/>
<line x1="1947" y1="1004" x2="2133" y2="1218" stroke="#3a3a3a" stroke-width="3" stroke-dasharray="10 6" fill="none"/>
</svg>
</body></html>
